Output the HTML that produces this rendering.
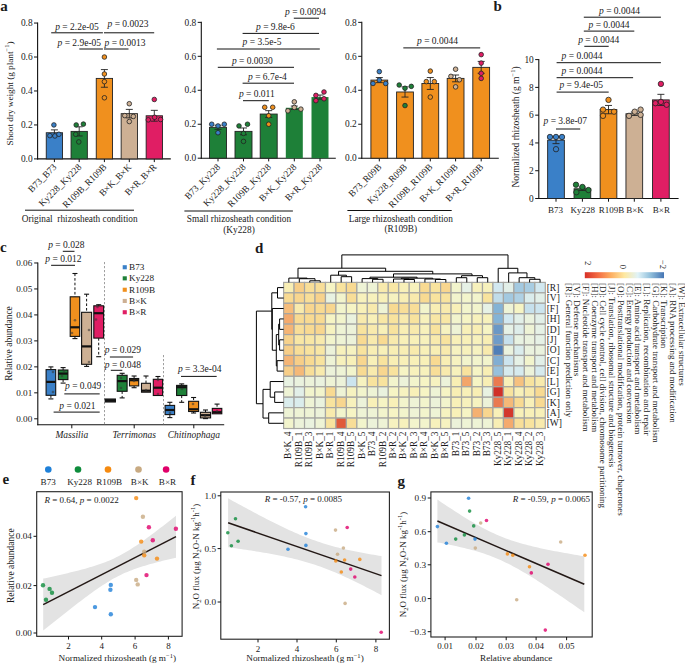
<!DOCTYPE html>
<html><head><meta charset="utf-8"><style>
html,body{margin:0;padding:0;background:#fff;width:685px;height:665px;overflow:hidden}
svg{display:block}
text{font-family:"Liberation Serif",serif;fill:#1a1a1a}
</style></head><body>
<svg width="685" height="665" viewBox="0 0 685 665" shape-rendering="auto">
<rect width="685" height="665" fill="#fff"/>
<text x="0.30" y="10.80" font-size="15" font-weight="bold">a</text>
<text x="493.50" y="10.80" font-size="15" font-weight="bold">b</text>
<text x="0.00" y="251.90" font-size="15" font-weight="bold">c</text>
<text x="255.00" y="252.50" font-size="15" font-weight="bold">d</text>
<text x="2.50" y="483.60" font-size="15" font-weight="bold">e</text>
<text x="190.50" y="484.90" font-size="15" font-weight="bold">f</text>
<text x="397.50" y="486.00" font-size="15" font-weight="bold">g</text>
<line x1="37.60" y1="22.56" x2="37.60" y2="159.40" stroke="#111" stroke-width="1.1"/>
<line x1="34.00" y1="158.90" x2="37.60" y2="158.90" stroke="#111" stroke-width="1"/>
<text x="32.60" y="162.10" font-size="9.4" text-anchor="end">0.0</text>
<line x1="34.00" y1="124.94" x2="37.60" y2="124.94" stroke="#111" stroke-width="1"/>
<text x="32.60" y="128.14" font-size="9.4" text-anchor="end">0.2</text>
<line x1="34.00" y1="90.98" x2="37.60" y2="90.98" stroke="#111" stroke-width="1"/>
<text x="32.60" y="94.18" font-size="9.4" text-anchor="end">0.4</text>
<line x1="34.00" y1="57.02" x2="37.60" y2="57.02" stroke="#111" stroke-width="1"/>
<text x="32.60" y="60.22" font-size="9.4" text-anchor="end">0.6</text>
<line x1="34.00" y1="23.06" x2="37.60" y2="23.06" stroke="#111" stroke-width="1"/>
<text x="32.60" y="26.26" font-size="9.4" text-anchor="end">0.8</text>
<line x1="37.10" y1="158.90" x2="170.80" y2="158.90" stroke="#111" stroke-width="1.1"/>
<line x1="54.40" y1="158.90" x2="54.40" y2="162.10" stroke="#111" stroke-width="1"/>
<rect x="46.25" y="132.75" width="16.30" height="26.15" fill="#3a80c8" stroke="#222" stroke-width="0.9"/>
<line x1="54.40" y1="129.86" x2="54.40" y2="135.64" stroke="#222" stroke-width="0.9"/>
<line x1="50.90" y1="129.86" x2="57.90" y2="129.86" stroke="#222" stroke-width="0.9"/>
<line x1="50.90" y1="135.64" x2="57.90" y2="135.64" stroke="#222" stroke-width="0.9"/>
<circle cx="53.90" cy="124.94" r="2.3" fill="#3a80c8" stroke="#222" stroke-width="0.8"/>
<circle cx="49.90" cy="135.64" r="2.3" fill="#3a80c8" stroke="#222" stroke-width="0.8"/>
<circle cx="54.90" cy="135.98" r="2.3" fill="#3a80c8" stroke="#222" stroke-width="0.8"/>
<circle cx="58.90" cy="134.28" r="2.3" fill="#3a80c8" stroke="#222" stroke-width="0.8"/>
<text x="57.20" y="167.60" font-size="9.4" text-anchor="end" transform="rotate(-45 57.20 167.60)">B73_B73</text>
<line x1="79.20" y1="158.90" x2="79.20" y2="162.10" stroke="#111" stroke-width="1"/>
<rect x="71.05" y="131.39" width="16.30" height="27.51" fill="#1e8038" stroke="#222" stroke-width="0.9"/>
<line x1="79.20" y1="126.81" x2="79.20" y2="135.98" stroke="#222" stroke-width="0.9"/>
<line x1="75.70" y1="126.81" x2="82.70" y2="126.81" stroke="#222" stroke-width="0.9"/>
<line x1="75.70" y1="135.98" x2="82.70" y2="135.98" stroke="#222" stroke-width="0.9"/>
<circle cx="76.20" cy="124.94" r="2.3" fill="#1e8038" stroke="#222" stroke-width="0.8"/>
<circle cx="83.40" cy="124.09" r="2.3" fill="#1e8038" stroke="#222" stroke-width="0.8"/>
<circle cx="78.80" cy="141.92" r="2.3" fill="#1e8038" stroke="#222" stroke-width="0.8"/>
<circle cx="75.70" cy="134.28" r="2.3" fill="#1e8038" stroke="#222" stroke-width="0.8"/>
<text x="82.00" y="167.60" font-size="9.4" text-anchor="end" transform="rotate(-45 82.00 167.60)">Ky228_Ky228</text>
<line x1="104.40" y1="158.90" x2="104.40" y2="162.10" stroke="#111" stroke-width="1"/>
<rect x="96.25" y="78.41" width="16.30" height="80.49" fill="#f0901e" stroke="#222" stroke-width="0.9"/>
<line x1="104.40" y1="69.59" x2="104.40" y2="87.24" stroke="#222" stroke-width="0.9"/>
<line x1="100.90" y1="69.59" x2="107.90" y2="69.59" stroke="#222" stroke-width="0.9"/>
<line x1="100.90" y1="87.24" x2="107.90" y2="87.24" stroke="#222" stroke-width="0.9"/>
<circle cx="104.40" cy="57.02" r="2.3" fill="#f0901e" stroke="#222" stroke-width="0.8"/>
<circle cx="104.40" cy="74.00" r="2.3" fill="#f0901e" stroke="#222" stroke-width="0.8"/>
<circle cx="104.40" cy="81.64" r="2.3" fill="#f0901e" stroke="#222" stroke-width="0.8"/>
<circle cx="104.40" cy="97.77" r="2.3" fill="#f0901e" stroke="#222" stroke-width="0.8"/>
<text x="107.20" y="167.60" font-size="9.4" text-anchor="end" transform="rotate(-45 107.20 167.60)">R109B_R109B</text>
<line x1="129.30" y1="158.90" x2="129.30" y2="162.10" stroke="#111" stroke-width="1"/>
<rect x="121.15" y="113.65" width="16.30" height="45.25" fill="#cdb094" stroke="#222" stroke-width="0.9"/>
<line x1="129.30" y1="109.40" x2="129.30" y2="117.89" stroke="#222" stroke-width="0.9"/>
<line x1="125.80" y1="109.40" x2="132.80" y2="109.40" stroke="#222" stroke-width="0.9"/>
<line x1="125.80" y1="117.89" x2="132.80" y2="117.89" stroke="#222" stroke-width="0.9"/>
<circle cx="129.30" cy="103.72" r="2.3" fill="#cdb094" stroke="#222" stroke-width="0.8"/>
<circle cx="124.80" cy="115.60" r="2.3" fill="#cdb094" stroke="#222" stroke-width="0.8"/>
<circle cx="133.30" cy="116.45" r="2.3" fill="#cdb094" stroke="#222" stroke-width="0.8"/>
<circle cx="129.30" cy="121.54" r="2.3" fill="#cdb094" stroke="#222" stroke-width="0.8"/>
<text x="132.10" y="167.60" font-size="9.4" text-anchor="end" transform="rotate(-45 132.10 167.60)">B×K_B×K</text>
<line x1="154.30" y1="158.90" x2="154.30" y2="162.10" stroke="#111" stroke-width="1"/>
<rect x="146.15" y="115.77" width="16.30" height="43.13" fill="#e01e64" stroke="#222" stroke-width="0.9"/>
<line x1="154.30" y1="110.34" x2="154.30" y2="121.20" stroke="#222" stroke-width="0.9"/>
<line x1="150.80" y1="110.34" x2="157.80" y2="110.34" stroke="#222" stroke-width="0.9"/>
<line x1="150.80" y1="121.20" x2="157.80" y2="121.20" stroke="#222" stroke-width="0.9"/>
<circle cx="154.30" cy="99.47" r="2.3" fill="#e01e64" stroke="#222" stroke-width="0.8"/>
<circle cx="148.30" cy="119.85" r="2.3" fill="#e01e64" stroke="#222" stroke-width="0.8"/>
<circle cx="154.60" cy="117.30" r="2.3" fill="#e01e64" stroke="#222" stroke-width="0.8"/>
<circle cx="160.60" cy="119.51" r="2.3" fill="#e01e64" stroke="#222" stroke-width="0.8"/>
<text x="157.10" y="167.60" font-size="9.4" text-anchor="end" transform="rotate(-45 157.10 167.60)">B×R_B×R</text>
<text x="12.60" y="93.50" font-size="9.2" text-anchor="middle" transform="rotate(-90 12.60 93.50)">Shoot dry weight (g plant<tspan dy="-3.5" font-size="6.5">−1</tspan><tspan dy="3.5">)</tspan></text>
<line x1="25.00" y1="210.20" x2="134.00" y2="210.20" stroke="#111" stroke-width="1"/>
<text x="79.70" y="221.70" font-size="9.3" text-anchor="middle">Original  rhizosheath condition</text>
<text x="55.20" y="29.70" font-size="9.5"><tspan font-style="italic">p</tspan> = 2.2e-05</text>
<line x1="51.20" y1="32.80" x2="102.90" y2="32.80" stroke="#111" stroke-width="1"/>
<text x="107.50" y="26.50" font-size="9.5"><tspan font-style="italic">p</tspan> = 0.0023</text>
<line x1="104.00" y1="32.80" x2="154.20" y2="32.80" stroke="#111" stroke-width="1"/>
<text x="57.50" y="46.00" font-size="9.5"><tspan font-style="italic">p</tspan> = 2.9e-05</text>
<line x1="79.30" y1="49.00" x2="102.90" y2="49.00" stroke="#111" stroke-width="1"/>
<text x="104.50" y="46.00" font-size="9.5"><tspan font-style="italic">p</tspan> = 0.0013</text>
<line x1="104.00" y1="49.00" x2="128.50" y2="49.00" stroke="#111" stroke-width="1"/>
<line x1="201.30" y1="21.86" x2="201.30" y2="158.70" stroke="#111" stroke-width="1.1"/>
<line x1="197.70" y1="158.20" x2="201.30" y2="158.20" stroke="#111" stroke-width="1"/>
<text x="196.30" y="161.40" font-size="9.4" text-anchor="end">0.0</text>
<line x1="197.70" y1="124.24" x2="201.30" y2="124.24" stroke="#111" stroke-width="1"/>
<text x="196.30" y="127.44" font-size="9.4" text-anchor="end">0.2</text>
<line x1="197.70" y1="90.28" x2="201.30" y2="90.28" stroke="#111" stroke-width="1"/>
<text x="196.30" y="93.48" font-size="9.4" text-anchor="end">0.4</text>
<line x1="197.70" y1="56.32" x2="201.30" y2="56.32" stroke="#111" stroke-width="1"/>
<text x="196.30" y="59.52" font-size="9.4" text-anchor="end">0.6</text>
<line x1="197.70" y1="22.36" x2="201.30" y2="22.36" stroke="#111" stroke-width="1"/>
<text x="196.30" y="25.56" font-size="9.4" text-anchor="end">0.8</text>
<line x1="200.80" y1="158.20" x2="335.80" y2="158.20" stroke="#111" stroke-width="1.1"/>
<line x1="218.00" y1="158.20" x2="218.00" y2="161.40" stroke="#111" stroke-width="1"/>
<rect x="209.50" y="127.30" width="17.00" height="30.90" fill="#1e8038" stroke="#222" stroke-width="0.9"/>
<line x1="218.00" y1="125.26" x2="218.00" y2="129.33" stroke="#222" stroke-width="0.9"/>
<line x1="214.50" y1="125.26" x2="221.50" y2="125.26" stroke="#222" stroke-width="0.9"/>
<line x1="214.50" y1="129.33" x2="221.50" y2="129.33" stroke="#222" stroke-width="0.9"/>
<circle cx="211.70" cy="124.24" r="2.3" fill="#3a80c8" stroke="#222" stroke-width="0.8"/>
<circle cx="218.00" cy="125.94" r="2.3" fill="#3a80c8" stroke="#222" stroke-width="0.8"/>
<circle cx="224.30" cy="124.24" r="2.3" fill="#3a80c8" stroke="#222" stroke-width="0.8"/>
<circle cx="218.00" cy="132.73" r="2.3" fill="#3a80c8" stroke="#222" stroke-width="0.8"/>
<text x="220.80" y="167.60" font-size="9.4" text-anchor="end" transform="rotate(-45 220.80 167.60)">B73_Ky228</text>
<line x1="243.50" y1="158.20" x2="243.50" y2="161.40" stroke="#111" stroke-width="1"/>
<rect x="235.00" y="131.37" width="17.00" height="26.83" fill="#1e8038" stroke="#222" stroke-width="0.9"/>
<line x1="243.50" y1="127.98" x2="243.50" y2="134.77" stroke="#222" stroke-width="0.9"/>
<line x1="240.00" y1="127.98" x2="247.00" y2="127.98" stroke="#222" stroke-width="0.9"/>
<line x1="240.00" y1="134.77" x2="247.00" y2="134.77" stroke="#222" stroke-width="0.9"/>
<circle cx="239.00" cy="125.94" r="2.3" fill="#1e8038" stroke="#222" stroke-width="0.8"/>
<circle cx="247.50" cy="124.24" r="2.3" fill="#1e8038" stroke="#222" stroke-width="0.8"/>
<circle cx="243.50" cy="133.41" r="2.3" fill="#1e8038" stroke="#222" stroke-width="0.8"/>
<circle cx="243.50" cy="141.39" r="2.3" fill="#1e8038" stroke="#222" stroke-width="0.8"/>
<text x="246.30" y="167.60" font-size="9.4" text-anchor="end" transform="rotate(-45 246.30 167.60)">Ky228_Ky228</text>
<line x1="268.70" y1="158.20" x2="268.70" y2="161.40" stroke="#111" stroke-width="1"/>
<rect x="260.20" y="114.05" width="17.00" height="44.15" fill="#1e8038" stroke="#222" stroke-width="0.9"/>
<line x1="268.70" y1="110.66" x2="268.70" y2="117.45" stroke="#222" stroke-width="0.9"/>
<line x1="265.20" y1="110.66" x2="272.20" y2="110.66" stroke="#222" stroke-width="0.9"/>
<line x1="265.20" y1="117.45" x2="272.20" y2="117.45" stroke="#222" stroke-width="0.9"/>
<circle cx="264.70" cy="107.26" r="2.3" fill="#f0901e" stroke="#222" stroke-width="0.8"/>
<circle cx="272.70" cy="107.26" r="2.3" fill="#f0901e" stroke="#222" stroke-width="0.8"/>
<circle cx="268.70" cy="115.75" r="2.3" fill="#f0901e" stroke="#222" stroke-width="0.8"/>
<circle cx="268.70" cy="124.24" r="2.3" fill="#f0901e" stroke="#222" stroke-width="0.8"/>
<text x="271.50" y="167.60" font-size="9.4" text-anchor="end" transform="rotate(-45 271.50 167.60)">R109B_Ky228</text>
<line x1="294.30" y1="158.20" x2="294.30" y2="161.40" stroke="#111" stroke-width="1"/>
<rect x="285.80" y="107.77" width="17.00" height="50.43" fill="#1e8038"/>
<line x1="294.30" y1="106.07" x2="294.30" y2="109.47" stroke="#222" stroke-width="0.9"/>
<line x1="290.80" y1="106.07" x2="297.80" y2="106.07" stroke="#222" stroke-width="0.9"/>
<line x1="290.80" y1="109.47" x2="297.80" y2="109.47" stroke="#222" stroke-width="0.9"/>
<circle cx="294.30" cy="101.83" r="2.3" fill="#cdb094" stroke="#222" stroke-width="0.8"/>
<circle cx="294.30" cy="107.43" r="2.3" fill="#cdb094" stroke="#222" stroke-width="0.8"/>
<circle cx="287.90" cy="110.83" r="2.3" fill="#cdb094" stroke="#222" stroke-width="0.8"/>
<circle cx="300.90" cy="109.13" r="2.3" fill="#cdb094" stroke="#222" stroke-width="0.8"/>
<text x="297.10" y="167.60" font-size="9.4" text-anchor="end" transform="rotate(-45 297.10 167.60)">B×K_Ky228</text>
<line x1="320.00" y1="158.20" x2="320.00" y2="161.40" stroke="#111" stroke-width="1"/>
<rect x="311.50" y="97.07" width="17.00" height="61.13" fill="#1e8038"/>
<line x1="320.00" y1="95.03" x2="320.00" y2="99.11" stroke="#222" stroke-width="0.9"/>
<line x1="316.50" y1="95.03" x2="323.50" y2="95.03" stroke="#222" stroke-width="0.9"/>
<line x1="316.50" y1="99.11" x2="323.50" y2="99.11" stroke="#222" stroke-width="0.9"/>
<circle cx="315.90" cy="95.37" r="2.3" fill="#e01e64" stroke="#222" stroke-width="0.8"/>
<circle cx="324.00" cy="91.98" r="2.3" fill="#e01e64" stroke="#222" stroke-width="0.8"/>
<circle cx="315.90" cy="100.64" r="2.3" fill="#e01e64" stroke="#222" stroke-width="0.8"/>
<circle cx="324.00" cy="98.77" r="2.3" fill="#e01e64" stroke="#222" stroke-width="0.8"/>
<text x="322.80" y="167.60" font-size="9.4" text-anchor="end" transform="rotate(-45 322.80 167.60)">B×R_Ky228</text>
<line x1="184.40" y1="211.00" x2="292.90" y2="211.00" stroke="#111" stroke-width="1"/>
<text x="239.00" y="222.10" font-size="9.3" text-anchor="middle">Small rhizosheath condition</text>
<text x="239.00" y="232.80" font-size="9.3" text-anchor="middle">(Ky228)</text>
<text x="285.00" y="14.50" font-size="9.5"><tspan font-style="italic">p</tspan> = 0.0094</text>
<line x1="293.80" y1="18.20" x2="319.00" y2="18.20" stroke="#111" stroke-width="1"/>
<text x="256.00" y="30.00" font-size="9.5"><tspan font-style="italic">p</tspan> = 9.8e-6</text>
<line x1="242.60" y1="33.40" x2="319.00" y2="33.40" stroke="#111" stroke-width="1"/>
<text x="242.60" y="45.00" font-size="9.5"><tspan font-style="italic">p</tspan> = 3.5e-5</text>
<line x1="216.90" y1="49.00" x2="319.80" y2="49.00" stroke="#111" stroke-width="1"/>
<text x="231.90" y="63.50" font-size="9.5"><tspan font-style="italic">p</tspan> = 0.0030</text>
<line x1="217.80" y1="67.30" x2="294.00" y2="67.30" stroke="#111" stroke-width="1"/>
<text x="248.00" y="80.00" font-size="9.5"><tspan font-style="italic">p</tspan> = 6.7e-4</text>
<line x1="242.60" y1="83.20" x2="294.00" y2="83.20" stroke="#111" stroke-width="1"/>
<text x="238.90" y="97.00" font-size="9.5"><tspan font-style="italic">p</tspan> = 0.011</text>
<line x1="243.00" y1="100.70" x2="268.80" y2="100.70" stroke="#111" stroke-width="1"/>
<line x1="361.80" y1="21.86" x2="361.80" y2="158.70" stroke="#111" stroke-width="1.1"/>
<line x1="358.20" y1="158.20" x2="361.80" y2="158.20" stroke="#111" stroke-width="1"/>
<text x="356.80" y="161.40" font-size="9.4" text-anchor="end">0.0</text>
<line x1="358.20" y1="124.24" x2="361.80" y2="124.24" stroke="#111" stroke-width="1"/>
<text x="356.80" y="127.44" font-size="9.4" text-anchor="end">0.2</text>
<line x1="358.20" y1="90.28" x2="361.80" y2="90.28" stroke="#111" stroke-width="1"/>
<text x="356.80" y="93.48" font-size="9.4" text-anchor="end">0.4</text>
<line x1="358.20" y1="56.32" x2="361.80" y2="56.32" stroke="#111" stroke-width="1"/>
<text x="356.80" y="59.52" font-size="9.4" text-anchor="end">0.6</text>
<line x1="358.20" y1="22.36" x2="361.80" y2="22.36" stroke="#111" stroke-width="1"/>
<text x="356.80" y="25.56" font-size="9.4" text-anchor="end">0.8</text>
<line x1="361.30" y1="158.20" x2="498.80" y2="158.20" stroke="#111" stroke-width="1.1"/>
<line x1="379.30" y1="158.20" x2="379.30" y2="161.40" stroke="#111" stroke-width="1"/>
<rect x="370.90" y="80.09" width="16.80" height="78.11" fill="#f0901e" stroke="#222" stroke-width="0.9"/>
<line x1="379.30" y1="77.54" x2="379.30" y2="82.64" stroke="#222" stroke-width="0.9"/>
<line x1="375.80" y1="77.54" x2="382.80" y2="77.54" stroke="#222" stroke-width="0.9"/>
<line x1="375.80" y1="82.64" x2="382.80" y2="82.64" stroke="#222" stroke-width="0.9"/>
<circle cx="379.30" cy="71.60" r="2.3" fill="#3a80c8" stroke="#222" stroke-width="0.8"/>
<circle cx="373.00" cy="83.49" r="2.3" fill="#3a80c8" stroke="#222" stroke-width="0.8"/>
<circle cx="379.30" cy="80.09" r="2.3" fill="#3a80c8" stroke="#222" stroke-width="0.8"/>
<circle cx="385.70" cy="83.49" r="2.3" fill="#3a80c8" stroke="#222" stroke-width="0.8"/>
<text x="382.10" y="167.60" font-size="9.4" text-anchor="end" transform="rotate(-45 382.10 167.60)">B73_R09B</text>
<line x1="405.00" y1="158.20" x2="405.00" y2="161.40" stroke="#111" stroke-width="1"/>
<rect x="396.60" y="91.98" width="16.80" height="66.22" fill="#f0901e" stroke="#222" stroke-width="0.9"/>
<line x1="405.00" y1="86.88" x2="405.00" y2="97.07" stroke="#222" stroke-width="0.9"/>
<line x1="401.50" y1="86.88" x2="408.50" y2="86.88" stroke="#222" stroke-width="0.9"/>
<line x1="401.50" y1="97.07" x2="408.50" y2="97.07" stroke="#222" stroke-width="0.9"/>
<circle cx="399.20" cy="85.02" r="2.3" fill="#1e8038" stroke="#222" stroke-width="0.8"/>
<circle cx="405.00" cy="88.24" r="2.3" fill="#1e8038" stroke="#222" stroke-width="0.8"/>
<circle cx="411.30" cy="86.37" r="2.3" fill="#1e8038" stroke="#222" stroke-width="0.8"/>
<circle cx="405.00" cy="105.56" r="2.3" fill="#1e8038" stroke="#222" stroke-width="0.8"/>
<text x="407.80" y="167.60" font-size="9.4" text-anchor="end" transform="rotate(-45 407.80 167.60)">Ky228_R09B</text>
<line x1="430.30" y1="158.20" x2="430.30" y2="161.40" stroke="#111" stroke-width="1"/>
<rect x="421.90" y="83.49" width="16.80" height="74.71" fill="#f0901e" stroke="#222" stroke-width="0.9"/>
<line x1="430.30" y1="77.54" x2="430.30" y2="89.43" stroke="#222" stroke-width="0.9"/>
<line x1="426.80" y1="77.54" x2="433.80" y2="77.54" stroke="#222" stroke-width="0.9"/>
<line x1="426.80" y1="89.43" x2="433.80" y2="89.43" stroke="#222" stroke-width="0.9"/>
<circle cx="430.30" cy="71.09" r="2.3" fill="#f0901e" stroke="#222" stroke-width="0.8"/>
<circle cx="426.30" cy="81.62" r="2.3" fill="#f0901e" stroke="#222" stroke-width="0.8"/>
<circle cx="434.30" cy="81.62" r="2.3" fill="#f0901e" stroke="#222" stroke-width="0.8"/>
<circle cx="430.30" cy="97.07" r="2.3" fill="#f0901e" stroke="#222" stroke-width="0.8"/>
<text x="433.10" y="167.60" font-size="9.4" text-anchor="end" transform="rotate(-45 433.10 167.60)">R109B_R109B</text>
<line x1="455.60" y1="158.20" x2="455.60" y2="161.40" stroke="#111" stroke-width="1"/>
<rect x="447.20" y="78.39" width="16.80" height="79.81" fill="#f0901e" stroke="#222" stroke-width="0.9"/>
<line x1="455.60" y1="75.00" x2="455.60" y2="81.79" stroke="#222" stroke-width="0.9"/>
<line x1="452.10" y1="75.00" x2="459.10" y2="75.00" stroke="#222" stroke-width="0.9"/>
<line x1="452.10" y1="81.79" x2="459.10" y2="81.79" stroke="#222" stroke-width="0.9"/>
<circle cx="455.60" cy="69.22" r="2.3" fill="#cdb094" stroke="#222" stroke-width="0.8"/>
<circle cx="450.90" cy="76.36" r="2.3" fill="#cdb094" stroke="#222" stroke-width="0.8"/>
<circle cx="459.40" cy="79.75" r="2.3" fill="#cdb094" stroke="#222" stroke-width="0.8"/>
<circle cx="455.60" cy="86.88" r="2.3" fill="#cdb094" stroke="#222" stroke-width="0.8"/>
<text x="458.40" y="167.60" font-size="9.4" text-anchor="end" transform="rotate(-45 458.40 167.60)">B×K_R109B</text>
<line x1="481.20" y1="158.20" x2="481.20" y2="161.40" stroke="#111" stroke-width="1"/>
<rect x="472.80" y="67.36" width="16.80" height="90.84" fill="#f0901e" stroke="#222" stroke-width="0.9"/>
<line x1="481.20" y1="61.41" x2="481.20" y2="73.30" stroke="#222" stroke-width="0.9"/>
<line x1="477.70" y1="61.41" x2="484.70" y2="61.41" stroke="#222" stroke-width="0.9"/>
<line x1="477.70" y1="73.30" x2="484.70" y2="73.30" stroke="#222" stroke-width="0.9"/>
<circle cx="481.20" cy="54.62" r="2.3" fill="#e01e64" stroke="#222" stroke-width="0.8"/>
<circle cx="481.20" cy="63.11" r="2.3" fill="#e01e64" stroke="#222" stroke-width="0.8"/>
<circle cx="481.20" cy="73.30" r="2.3" fill="#e01e64" stroke="#222" stroke-width="0.8"/>
<circle cx="481.20" cy="78.39" r="2.3" fill="#e01e64" stroke="#222" stroke-width="0.8"/>
<text x="484.00" y="167.60" font-size="9.4" text-anchor="end" transform="rotate(-45 484.00 167.60)">B×R_R109B</text>
<line x1="347.40" y1="210.50" x2="451.70" y2="210.50" stroke="#111" stroke-width="1"/>
<text x="400.80" y="221.60" font-size="9.3" text-anchor="middle">Large rhizosheath condition</text>
<text x="400.80" y="231.50" font-size="9.3" text-anchor="middle">(R109B)</text>
<text x="417.00" y="44.20" font-size="9.5"><tspan font-style="italic">p</tspan> = 0.0044</text>
<line x1="403.30" y1="47.90" x2="480.20" y2="47.90" stroke="#111" stroke-width="1"/>
<line x1="538.80" y1="59.10" x2="538.80" y2="199.00" stroke="#111" stroke-width="1.1"/>
<line x1="535.20" y1="198.50" x2="538.80" y2="198.50" stroke="#111" stroke-width="1"/>
<text x="533.80" y="201.70" font-size="9.4" text-anchor="end">0</text>
<line x1="535.20" y1="170.72" x2="538.80" y2="170.72" stroke="#111" stroke-width="1"/>
<text x="533.80" y="173.92" font-size="9.4" text-anchor="end">2</text>
<line x1="535.20" y1="142.94" x2="538.80" y2="142.94" stroke="#111" stroke-width="1"/>
<text x="533.80" y="146.14" font-size="9.4" text-anchor="end">4</text>
<line x1="535.20" y1="115.16" x2="538.80" y2="115.16" stroke="#111" stroke-width="1"/>
<text x="533.80" y="118.36" font-size="9.4" text-anchor="end">6</text>
<line x1="535.20" y1="87.38" x2="538.80" y2="87.38" stroke="#111" stroke-width="1"/>
<text x="533.80" y="90.58" font-size="9.4" text-anchor="end">8</text>
<line x1="535.20" y1="59.60" x2="538.80" y2="59.60" stroke="#111" stroke-width="1"/>
<text x="533.80" y="62.80" font-size="9.4" text-anchor="end">10</text>
<line x1="538.30" y1="198.50" x2="678.60" y2="198.50" stroke="#111" stroke-width="1.1"/>
<line x1="556.00" y1="198.50" x2="556.00" y2="201.70" stroke="#111" stroke-width="1"/>
<rect x="547.65" y="140.16" width="16.70" height="58.34" fill="#3a80c8" stroke="#222" stroke-width="0.9"/>
<line x1="556.00" y1="136.69" x2="556.00" y2="143.63" stroke="#222" stroke-width="0.9"/>
<line x1="552.50" y1="136.69" x2="559.50" y2="136.69" stroke="#222" stroke-width="0.9"/>
<line x1="552.50" y1="143.63" x2="559.50" y2="143.63" stroke="#222" stroke-width="0.9"/>
<circle cx="550.00" cy="136.97" r="2.7" fill="#3a80c8" stroke="#222" stroke-width="0.8"/>
<circle cx="556.00" cy="136.97" r="2.7" fill="#3a80c8" stroke="#222" stroke-width="0.8"/>
<circle cx="562.00" cy="136.97" r="2.7" fill="#3a80c8" stroke="#222" stroke-width="0.8"/>
<circle cx="556.00" cy="149.19" r="2.7" fill="#3a80c8" stroke="#222" stroke-width="0.8"/>
<text x="555.50" y="213.20" font-size="9.0" text-anchor="middle">B73</text>
<line x1="582.40" y1="198.50" x2="582.40" y2="201.70" stroke="#111" stroke-width="1"/>
<rect x="574.05" y="188.78" width="16.70" height="9.72" fill="#1e8038" stroke="#222" stroke-width="0.9"/>
<line x1="582.40" y1="187.11" x2="582.40" y2="190.44" stroke="#222" stroke-width="0.9"/>
<line x1="578.90" y1="187.11" x2="585.90" y2="187.11" stroke="#222" stroke-width="0.9"/>
<line x1="578.90" y1="190.44" x2="585.90" y2="190.44" stroke="#222" stroke-width="0.9"/>
<circle cx="576.00" cy="184.75" r="2.7" fill="#1e8038" stroke="#222" stroke-width="0.8"/>
<circle cx="582.40" cy="186.97" r="2.7" fill="#1e8038" stroke="#222" stroke-width="0.8"/>
<circle cx="588.40" cy="190.03" r="2.7" fill="#1e8038" stroke="#222" stroke-width="0.8"/>
<circle cx="576.40" cy="192.25" r="2.7" fill="#1e8038" stroke="#222" stroke-width="0.8"/>
<text x="582.80" y="213.20" font-size="9.0" text-anchor="middle">Ky228</text>
<line x1="608.50" y1="198.50" x2="608.50" y2="201.70" stroke="#111" stroke-width="1"/>
<rect x="600.15" y="109.60" width="16.70" height="88.90" fill="#f0901e" stroke="#222" stroke-width="0.9"/>
<line x1="608.50" y1="105.44" x2="608.50" y2="113.77" stroke="#222" stroke-width="0.9"/>
<line x1="605.00" y1="105.44" x2="612.00" y2="105.44" stroke="#222" stroke-width="0.9"/>
<line x1="605.00" y1="113.77" x2="612.00" y2="113.77" stroke="#222" stroke-width="0.9"/>
<circle cx="608.50" cy="99.88" r="2.7" fill="#f0901e" stroke="#222" stroke-width="0.8"/>
<circle cx="603.00" cy="109.60" r="2.7" fill="#f0901e" stroke="#222" stroke-width="0.8"/>
<circle cx="614.00" cy="111.69" r="2.7" fill="#f0901e" stroke="#222" stroke-width="0.8"/>
<circle cx="603.00" cy="115.85" r="2.7" fill="#f0901e" stroke="#222" stroke-width="0.8"/>
<text x="611.50" y="213.20" font-size="9.0" text-anchor="middle">R109B</text>
<line x1="634.30" y1="198.50" x2="634.30" y2="201.70" stroke="#111" stroke-width="1"/>
<rect x="625.95" y="113.77" width="16.70" height="84.73" fill="#cdb094" stroke="#222" stroke-width="0.9"/>
<line x1="634.30" y1="112.10" x2="634.30" y2="115.44" stroke="#222" stroke-width="0.9"/>
<line x1="630.80" y1="112.10" x2="637.80" y2="112.10" stroke="#222" stroke-width="0.9"/>
<line x1="630.80" y1="115.44" x2="637.80" y2="115.44" stroke="#222" stroke-width="0.9"/>
<circle cx="629.00" cy="115.85" r="2.7" fill="#cdb094" stroke="#222" stroke-width="0.8"/>
<circle cx="634.70" cy="111.69" r="2.7" fill="#cdb094" stroke="#222" stroke-width="0.8"/>
<circle cx="640.60" cy="109.60" r="2.7" fill="#cdb094" stroke="#222" stroke-width="0.8"/>
<circle cx="640.60" cy="114.88" r="2.7" fill="#cdb094" stroke="#222" stroke-width="0.8"/>
<text x="635.00" y="213.20" font-size="9.0" text-anchor="middle">B×K</text>
<line x1="660.90" y1="198.50" x2="660.90" y2="201.70" stroke="#111" stroke-width="1"/>
<rect x="652.55" y="99.88" width="16.70" height="98.62" fill="#e01e64" stroke="#222" stroke-width="0.9"/>
<line x1="660.90" y1="94.33" x2="660.90" y2="105.44" stroke="#222" stroke-width="0.9"/>
<line x1="657.40" y1="94.33" x2="664.40" y2="94.33" stroke="#222" stroke-width="0.9"/>
<line x1="657.40" y1="105.44" x2="664.40" y2="105.44" stroke="#222" stroke-width="0.9"/>
<circle cx="660.90" cy="83.91" r="2.7" fill="#e01e64" stroke="#222" stroke-width="0.8"/>
<circle cx="655.40" cy="103.21" r="2.7" fill="#e01e64" stroke="#222" stroke-width="0.8"/>
<circle cx="660.90" cy="101.96" r="2.7" fill="#e01e64" stroke="#222" stroke-width="0.8"/>
<circle cx="666.60" cy="104.74" r="2.7" fill="#e01e64" stroke="#222" stroke-width="0.8"/>
<text x="661.40" y="213.20" font-size="9.0" text-anchor="middle">B×R</text>
<text x="518.50" y="127.00" font-size="9.5" text-anchor="middle" transform="rotate(-90 518.50 127.00)">Normalized rhizosheath (g m<tspan dy="-3.5" font-size="6.5">−1</tspan><tspan dy="3.5">)</tspan></text>
<text x="599.00" y="14.40" font-size="9.5"><tspan font-style="italic">p</tspan> = 0.0044</text>
<line x1="583.80" y1="17.20" x2="660.90" y2="17.20" stroke="#111" stroke-width="1"/>
<text x="588.50" y="27.70" font-size="9.5"><tspan font-style="italic">p</tspan> = 0.0044</text>
<line x1="583.80" y1="31.10" x2="634.30" y2="31.10" stroke="#111" stroke-width="1"/>
<text x="578.20" y="43.00" font-size="9.5"><tspan font-style="italic">p</tspan> = 0.0044</text>
<line x1="584.30" y1="46.30" x2="608.70" y2="46.30" stroke="#111" stroke-width="1"/>
<text x="561.60" y="58.80" font-size="9.5"><tspan font-style="italic">p</tspan> = 0.0044</text>
<line x1="556.60" y1="62.70" x2="660.90" y2="62.70" stroke="#111" stroke-width="1"/>
<text x="561.60" y="73.80" font-size="9.5"><tspan font-style="italic">p</tspan> = 0.0044</text>
<line x1="556.60" y1="77.70" x2="633.10" y2="77.70" stroke="#111" stroke-width="1"/>
<text x="559.40" y="88.20" font-size="9.5"><tspan font-style="italic">p</tspan> = 9.4e-05</text>
<line x1="556.60" y1="92.10" x2="608.70" y2="92.10" stroke="#111" stroke-width="1"/>
<text x="543.50" y="124.30" font-size="9.5"><tspan font-style="italic">p</tspan> = 3.8e-07</text>
<line x1="556.00" y1="129.00" x2="580.20" y2="129.00" stroke="#111" stroke-width="1"/>
<line x1="37.80" y1="262.50" x2="37.80" y2="425.30" stroke="#111" stroke-width="1.1"/>
<line x1="37.30" y1="424.80" x2="224.20" y2="424.80" stroke="#111" stroke-width="1.1"/>
<line x1="34.20" y1="418.80" x2="37.80" y2="418.80" stroke="#111" stroke-width="1"/>
<text x="32.30" y="421.90" font-size="9.2" text-anchor="end">0.00</text>
<line x1="34.20" y1="392.83" x2="37.80" y2="392.83" stroke="#111" stroke-width="1"/>
<text x="32.30" y="395.93" font-size="9.2" text-anchor="end">0.01</text>
<line x1="34.20" y1="366.86" x2="37.80" y2="366.86" stroke="#111" stroke-width="1"/>
<text x="32.30" y="369.96" font-size="9.2" text-anchor="end">0.02</text>
<line x1="34.20" y1="340.89" x2="37.80" y2="340.89" stroke="#111" stroke-width="1"/>
<text x="32.30" y="343.99" font-size="9.2" text-anchor="end">0.03</text>
<line x1="34.20" y1="314.92" x2="37.80" y2="314.92" stroke="#111" stroke-width="1"/>
<text x="32.30" y="318.02" font-size="9.2" text-anchor="end">0.04</text>
<line x1="34.20" y1="288.95" x2="37.80" y2="288.95" stroke="#111" stroke-width="1"/>
<text x="32.30" y="292.05" font-size="9.2" text-anchor="end">0.05</text>
<line x1="34.20" y1="262.98" x2="37.80" y2="262.98" stroke="#111" stroke-width="1"/>
<text x="32.30" y="266.08" font-size="9.2" text-anchor="end">0.06</text>
<line x1="71.80" y1="424.80" x2="71.80" y2="428.30" stroke="#111" stroke-width="1"/>
<text x="71.80" y="437.60" font-size="9.5" text-anchor="middle" font-style="italic">Massilia</text>
<line x1="134.20" y1="424.80" x2="134.20" y2="428.30" stroke="#111" stroke-width="1"/>
<text x="134.20" y="437.60" font-size="9.5" text-anchor="middle" font-style="italic">Terrimonas</text>
<line x1="193.80" y1="424.80" x2="193.80" y2="428.30" stroke="#111" stroke-width="1"/>
<text x="193.80" y="437.60" font-size="9.5" text-anchor="middle" font-style="italic">Chitinophaga</text>
<text x="11.60" y="343.50" font-size="9.5" text-anchor="middle" transform="rotate(-90 11.60 343.50)">Relative abundance</text>
<line x1="104.50" y1="262.00" x2="104.50" y2="424.30" stroke="#888" stroke-width="0.8" stroke-dasharray="2.2,1.8"/>
<line x1="163.50" y1="355.00" x2="163.50" y2="424.30" stroke="#888" stroke-width="0.8" stroke-dasharray="2.2,1.8"/>
<line x1="50.90" y1="366.90" x2="50.90" y2="369.60" stroke="#111" stroke-width="1" stroke-dasharray="2.6,2"/>
<line x1="48.40" y1="366.90" x2="53.40" y2="366.90" stroke="#111" stroke-width="1.1"/>
<line x1="50.90" y1="395.30" x2="50.90" y2="398.90" stroke="#111" stroke-width="1" stroke-dasharray="2.6,2"/>
<line x1="48.40" y1="398.90" x2="53.40" y2="398.90" stroke="#111" stroke-width="1.1"/>
<rect x="46.10" y="369.60" width="9.60" height="25.70" fill="#3a80c8" stroke="#111" stroke-width="1.1"/>
<line x1="46.10" y1="381.90" x2="55.70" y2="381.90" stroke="#111" stroke-width="2.2"/>
<line x1="63.10" y1="367.60" x2="63.10" y2="370.00" stroke="#111" stroke-width="1" stroke-dasharray="2.6,2"/>
<line x1="60.60" y1="367.60" x2="65.60" y2="367.60" stroke="#111" stroke-width="1.1"/>
<line x1="63.10" y1="379.60" x2="63.10" y2="383.10" stroke="#111" stroke-width="1" stroke-dasharray="2.6,2"/>
<line x1="60.60" y1="383.10" x2="65.60" y2="383.10" stroke="#111" stroke-width="1.1"/>
<rect x="58.30" y="370.00" width="9.60" height="9.60" fill="#1e8038" stroke="#111" stroke-width="1.1"/>
<line x1="58.30" y1="373.60" x2="67.90" y2="373.60" stroke="#111" stroke-width="2.2"/>
<line x1="74.95" y1="273.50" x2="74.95" y2="296.80" stroke="#111" stroke-width="1" stroke-dasharray="2.6,2"/>
<line x1="72.45" y1="273.50" x2="77.45" y2="273.50" stroke="#111" stroke-width="1.1"/>
<line x1="74.95" y1="336.40" x2="74.95" y2="338.60" stroke="#111" stroke-width="1" stroke-dasharray="2.6,2"/>
<line x1="72.45" y1="338.60" x2="77.45" y2="338.60" stroke="#111" stroke-width="1.1"/>
<rect x="70.20" y="296.80" width="9.50" height="39.60" fill="#f0901e" stroke="#111" stroke-width="1.1"/>
<line x1="70.20" y1="327.30" x2="79.70" y2="327.30" stroke="#111" stroke-width="2.2"/>
<line x1="86.60" y1="294.20" x2="86.60" y2="312.30" stroke="#111" stroke-width="1" stroke-dasharray="2.6,2"/>
<line x1="84.10" y1="294.20" x2="89.10" y2="294.20" stroke="#111" stroke-width="1.1"/>
<line x1="86.60" y1="364.30" x2="86.60" y2="366.40" stroke="#111" stroke-width="1" stroke-dasharray="2.6,2"/>
<line x1="84.10" y1="366.40" x2="89.10" y2="366.40" stroke="#111" stroke-width="1.1"/>
<rect x="81.60" y="312.30" width="10.00" height="52.00" fill="#cdb094" stroke="#111" stroke-width="1.1"/>
<line x1="81.60" y1="346.40" x2="91.60" y2="346.40" stroke="#111" stroke-width="2.2"/>
<line x1="98.70" y1="304.70" x2="98.70" y2="305.80" stroke="#111" stroke-width="1" stroke-dasharray="2.6,2"/>
<line x1="96.20" y1="304.70" x2="101.20" y2="304.70" stroke="#111" stroke-width="1.1"/>
<line x1="98.70" y1="338.10" x2="98.70" y2="356.70" stroke="#111" stroke-width="1" stroke-dasharray="2.6,2"/>
<line x1="96.20" y1="356.70" x2="101.20" y2="356.70" stroke="#111" stroke-width="1.1"/>
<rect x="93.80" y="305.80" width="9.80" height="32.30" fill="#e01e64" stroke="#111" stroke-width="1.1"/>
<line x1="93.80" y1="313.20" x2="103.60" y2="313.20" stroke="#111" stroke-width="2.2"/>
<rect x="105.20" y="399.00" width="10.20" height="3.00" fill="#3a3a3a" stroke="#111" stroke-width="1.1"/>
<line x1="105.20" y1="400.50" x2="115.40" y2="400.50" stroke="#111" stroke-width="2.2"/>
<line x1="122.15" y1="373.30" x2="122.15" y2="375.30" stroke="#111" stroke-width="1" stroke-dasharray="2.6,2"/>
<line x1="119.65" y1="373.30" x2="124.65" y2="373.30" stroke="#111" stroke-width="1.1"/>
<line x1="122.15" y1="391.30" x2="122.15" y2="397.90" stroke="#111" stroke-width="1" stroke-dasharray="2.6,2"/>
<line x1="119.65" y1="397.90" x2="124.65" y2="397.90" stroke="#111" stroke-width="1.1"/>
<rect x="117.20" y="375.30" width="9.90" height="16.00" fill="#1e8038" stroke="#111" stroke-width="1.1"/>
<line x1="117.20" y1="381.10" x2="127.10" y2="381.10" stroke="#111" stroke-width="2.2"/>
<line x1="134.10" y1="376.00" x2="134.10" y2="378.50" stroke="#111" stroke-width="1" stroke-dasharray="2.6,2"/>
<line x1="131.60" y1="376.00" x2="136.60" y2="376.00" stroke="#111" stroke-width="1.1"/>
<line x1="134.10" y1="385.90" x2="134.10" y2="387.70" stroke="#111" stroke-width="1" stroke-dasharray="2.6,2"/>
<line x1="131.60" y1="387.70" x2="136.60" y2="387.70" stroke="#111" stroke-width="1.1"/>
<rect x="129.50" y="378.50" width="9.20" height="7.40" fill="#f0901e" stroke="#111" stroke-width="1.1"/>
<line x1="129.50" y1="380.20" x2="138.70" y2="380.20" stroke="#111" stroke-width="2.2"/>
<line x1="146.00" y1="376.00" x2="146.00" y2="383.30" stroke="#111" stroke-width="1" stroke-dasharray="2.6,2"/>
<line x1="143.50" y1="376.00" x2="148.50" y2="376.00" stroke="#111" stroke-width="1.1"/>
<rect x="141.50" y="383.30" width="9.00" height="8.90" fill="#cdb094" stroke="#111" stroke-width="1.1"/>
<line x1="141.50" y1="390.70" x2="150.50" y2="390.70" stroke="#111" stroke-width="2.2"/>
<line x1="157.95" y1="376.50" x2="157.95" y2="379.30" stroke="#111" stroke-width="1" stroke-dasharray="2.6,2"/>
<line x1="155.45" y1="376.50" x2="160.45" y2="376.50" stroke="#111" stroke-width="1.1"/>
<rect x="153.30" y="379.30" width="9.30" height="16.20" fill="#e01e64" stroke="#111" stroke-width="1.1"/>
<line x1="153.30" y1="387.70" x2="162.60" y2="387.70" stroke="#111" stroke-width="2.2"/>
<line x1="169.85" y1="402.30" x2="169.85" y2="405.40" stroke="#111" stroke-width="1" stroke-dasharray="2.6,2"/>
<line x1="167.35" y1="402.30" x2="172.35" y2="402.30" stroke="#111" stroke-width="1.1"/>
<line x1="169.85" y1="414.60" x2="169.85" y2="417.60" stroke="#111" stroke-width="1" stroke-dasharray="2.6,2"/>
<line x1="167.35" y1="417.60" x2="172.35" y2="417.60" stroke="#111" stroke-width="1.1"/>
<rect x="165.10" y="405.40" width="9.50" height="9.20" fill="#3a80c8" stroke="#111" stroke-width="1.1"/>
<line x1="165.10" y1="410.00" x2="174.60" y2="410.00" stroke="#111" stroke-width="2.2"/>
<line x1="181.70" y1="383.90" x2="181.70" y2="385.40" stroke="#111" stroke-width="1" stroke-dasharray="2.6,2"/>
<line x1="179.20" y1="383.90" x2="184.20" y2="383.90" stroke="#111" stroke-width="1.1"/>
<line x1="181.70" y1="395.50" x2="181.70" y2="402.30" stroke="#111" stroke-width="1" stroke-dasharray="2.6,2"/>
<line x1="179.20" y1="402.30" x2="184.20" y2="402.30" stroke="#111" stroke-width="1.1"/>
<rect x="176.60" y="385.40" width="10.20" height="10.10" fill="#1e8038" stroke="#111" stroke-width="1.1"/>
<line x1="176.60" y1="387.20" x2="186.80" y2="387.20" stroke="#111" stroke-width="2.2"/>
<line x1="193.60" y1="397.50" x2="193.60" y2="401.30" stroke="#111" stroke-width="1" stroke-dasharray="2.6,2"/>
<line x1="191.10" y1="397.50" x2="196.10" y2="397.50" stroke="#111" stroke-width="1.1"/>
<line x1="193.60" y1="411.50" x2="193.60" y2="413.00" stroke="#111" stroke-width="1" stroke-dasharray="2.6,2"/>
<line x1="191.10" y1="413.00" x2="196.10" y2="413.00" stroke="#111" stroke-width="1.1"/>
<rect x="188.60" y="401.30" width="10.00" height="10.20" fill="#f0901e" stroke="#111" stroke-width="1.1"/>
<line x1="188.60" y1="409.30" x2="198.60" y2="409.30" stroke="#111" stroke-width="2.2"/>
<line x1="205.50" y1="410.00" x2="205.50" y2="412.30" stroke="#111" stroke-width="1" stroke-dasharray="2.6,2"/>
<line x1="203.00" y1="410.00" x2="208.00" y2="410.00" stroke="#111" stroke-width="1.1"/>
<line x1="205.50" y1="417.90" x2="205.50" y2="418.60" stroke="#111" stroke-width="1" stroke-dasharray="2.6,2"/>
<line x1="203.00" y1="418.60" x2="208.00" y2="418.60" stroke="#111" stroke-width="1.1"/>
<rect x="200.40" y="412.30" width="10.20" height="5.60" fill="#cdb094" stroke="#111" stroke-width="1.1"/>
<line x1="200.40" y1="415.20" x2="210.60" y2="415.20" stroke="#111" stroke-width="2.2"/>
<line x1="217.05" y1="404.10" x2="217.05" y2="408.40" stroke="#111" stroke-width="1" stroke-dasharray="2.6,2"/>
<line x1="214.55" y1="404.10" x2="219.55" y2="404.10" stroke="#111" stroke-width="1.1"/>
<rect x="212.30" y="408.40" width="9.50" height="5.40" fill="#e01e64" stroke="#111" stroke-width="1.1"/>
<line x1="212.30" y1="412.20" x2="221.80" y2="412.20" stroke="#111" stroke-width="2.2"/>
<circle cx="75.00" cy="320.30" r="1.3" fill="#333" fill-opacity="0.55"/>
<circle cx="72.00" cy="333.00" r="1.3" fill="#333" fill-opacity="0.55"/>
<circle cx="97.50" cy="307.00" r="1.3" fill="#333" fill-opacity="0.55"/>
<circle cx="96.00" cy="319.50" r="1.3" fill="#333" fill-opacity="0.55"/>
<circle cx="89.00" cy="330.00" r="1.3" fill="#333" fill-opacity="0.55"/>
<circle cx="89.00" cy="362.00" r="1.3" fill="#333" fill-opacity="0.55"/>
<circle cx="53.00" cy="372.00" r="1.3" fill="#333" fill-opacity="0.55"/>
<circle cx="53.00" cy="392.00" r="1.3" fill="#333" fill-opacity="0.55"/>
<circle cx="64.00" cy="371.00" r="1.3" fill="#333" fill-opacity="0.55"/>
<circle cx="62.00" cy="376.00" r="1.3" fill="#333" fill-opacity="0.55"/>
<circle cx="121.00" cy="378.00" r="1.3" fill="#333" fill-opacity="0.55"/>
<circle cx="121.00" cy="388.00" r="1.3" fill="#333" fill-opacity="0.55"/>
<circle cx="134.00" cy="381.00" r="1.3" fill="#333" fill-opacity="0.55"/>
<circle cx="146.00" cy="390.00" r="1.3" fill="#333" fill-opacity="0.55"/>
<circle cx="158.00" cy="380.00" r="1.3" fill="#333" fill-opacity="0.55"/>
<circle cx="158.00" cy="394.00" r="1.3" fill="#333" fill-opacity="0.55"/>
<circle cx="170.00" cy="413.00" r="1.3" fill="#333" fill-opacity="0.55"/>
<circle cx="182.00" cy="389.00" r="1.3" fill="#333" fill-opacity="0.55"/>
<circle cx="193.00" cy="404.00" r="1.3" fill="#333" fill-opacity="0.55"/>
<circle cx="205.00" cy="416.00" r="1.3" fill="#333" fill-opacity="0.55"/>
<circle cx="217.00" cy="411.00" r="1.3" fill="#333" fill-opacity="0.55"/>
<text x="48.20" y="247.50" font-size="9.5"><tspan font-style="italic">p</tspan> = 0.028</text>
<line x1="62.80" y1="251.30" x2="74.50" y2="251.30" stroke="#111" stroke-width="1"/>
<text x="45.30" y="261.50" font-size="9.5"><tspan font-style="italic">p</tspan> = 0.012</text>
<line x1="51.10" y1="265.30" x2="75.00" y2="265.30" stroke="#111" stroke-width="1"/>
<text x="65.00" y="388.90" font-size="9.5"><tspan font-style="italic">p</tspan> = 0.049</text>
<line x1="64.30" y1="393.90" x2="99.70" y2="393.90" stroke="#111" stroke-width="1"/>
<text x="59.30" y="408.60" font-size="9.5"><tspan font-style="italic">p</tspan> = 0.021</text>
<line x1="53.60" y1="412.10" x2="99.70" y2="412.10" stroke="#111" stroke-width="1"/>
<text x="104.80" y="353.40" font-size="9.5"><tspan font-style="italic">p</tspan> = 0.029</text>
<line x1="109.90" y1="357.00" x2="133.10" y2="357.00" stroke="#111" stroke-width="1"/>
<text x="104.80" y="368.10" font-size="9.5"><tspan font-style="italic">p</tspan> = 0.048</text>
<line x1="110.80" y1="370.30" x2="122.30" y2="370.30" stroke="#111" stroke-width="1"/>
<text x="177.90" y="371.60" font-size="9.5"><tspan font-style="italic">p</tspan> = 3.3e-04</text>
<line x1="181.00" y1="376.40" x2="216.70" y2="376.40" stroke="#111" stroke-width="1"/>
<rect x="122.70" y="265.20" width="4.10" height="4.10" fill="#3a80c8"/>
<text x="129.00" y="270.30" font-size="9.2">B73</text>
<rect x="122.70" y="276.30" width="4.10" height="4.10" fill="#1e8038"/>
<text x="129.00" y="281.40" font-size="9.2">Ky228</text>
<rect x="122.70" y="287.70" width="4.10" height="4.10" fill="#f0901e"/>
<text x="129.00" y="292.80" font-size="9.2">R109B</text>
<rect x="122.70" y="298.90" width="4.10" height="4.10" fill="#cdb094"/>
<text x="129.00" y="304.00" font-size="9.2">B×K</text>
<rect x="122.70" y="310.20" width="4.10" height="4.10" fill="#e01e64"/>
<text x="129.00" y="315.30" font-size="9.2">B×R</text>
<rect x="283.60" y="282.40" width="10.47" height="10.44" fill="#f8eeb4" stroke="#a6a6a2" stroke-width="1.2"/>
<rect x="294.07" y="282.40" width="10.47" height="10.44" fill="#f7ce88" stroke="#a6a6a2" stroke-width="1.2"/>
<rect x="304.54" y="282.40" width="10.47" height="10.44" fill="#f8de98" stroke="#a6a6a2" stroke-width="1.2"/>
<rect x="315.00" y="282.40" width="10.47" height="10.44" fill="#f8de98" stroke="#a6a6a2" stroke-width="1.2"/>
<rect x="325.47" y="282.40" width="10.47" height="10.44" fill="#f6f4c4" stroke="#a6a6a2" stroke-width="1.2"/>
<rect x="335.94" y="282.40" width="10.47" height="10.44" fill="#f8e39e" stroke="#a6a6a2" stroke-width="1.2"/>
<rect x="346.41" y="282.40" width="10.47" height="10.44" fill="#f8da92" stroke="#a6a6a2" stroke-width="1.2"/>
<rect x="356.88" y="282.40" width="10.47" height="10.44" fill="#eef3d5" stroke="#a6a6a2" stroke-width="1.2"/>
<rect x="367.34" y="282.40" width="10.47" height="10.44" fill="#eef3d5" stroke="#a6a6a2" stroke-width="1.2"/>
<rect x="377.81" y="282.40" width="10.47" height="10.44" fill="#f8eaad" stroke="#a6a6a2" stroke-width="1.2"/>
<rect x="388.28" y="282.40" width="10.47" height="10.44" fill="#f8e7a5" stroke="#a6a6a2" stroke-width="1.2"/>
<rect x="398.75" y="282.40" width="10.47" height="10.44" fill="#f8f0b8" stroke="#a6a6a2" stroke-width="1.2"/>
<rect x="409.22" y="282.40" width="10.47" height="10.44" fill="#f7f1bc" stroke="#a6a6a2" stroke-width="1.2"/>
<rect x="419.68" y="282.40" width="10.47" height="10.44" fill="#f8da92" stroke="#a6a6a2" stroke-width="1.2"/>
<rect x="430.15" y="282.40" width="10.47" height="10.44" fill="#f8e39e" stroke="#a6a6a2" stroke-width="1.2"/>
<rect x="440.62" y="282.40" width="10.47" height="10.44" fill="#f8d68f" stroke="#a6a6a2" stroke-width="1.2"/>
<rect x="451.09" y="282.40" width="10.47" height="10.44" fill="#f2f4cc" stroke="#a6a6a2" stroke-width="1.2"/>
<rect x="461.56" y="282.40" width="10.47" height="10.44" fill="#e6f1e6" stroke="#a6a6a2" stroke-width="1.2"/>
<rect x="472.02" y="282.40" width="10.47" height="10.44" fill="#f7f1bc" stroke="#a6a6a2" stroke-width="1.2"/>
<rect x="482.49" y="282.40" width="10.47" height="10.44" fill="#f7f1bc" stroke="#a6a6a2" stroke-width="1.2"/>
<rect x="492.96" y="282.40" width="10.47" height="10.44" fill="#d2e8f0" stroke="#a6a6a2" stroke-width="1.2"/>
<rect x="503.43" y="282.40" width="10.47" height="10.44" fill="#e2efe8" stroke="#a6a6a2" stroke-width="1.2"/>
<rect x="513.90" y="282.40" width="10.47" height="10.44" fill="#a3c9e0" stroke="#a6a6a2" stroke-width="1.2"/>
<rect x="524.36" y="282.40" width="10.47" height="10.44" fill="#a9cde2" stroke="#a6a6a2" stroke-width="1.2"/>
<rect x="534.83" y="282.40" width="10.47" height="10.44" fill="#d2e8f0" stroke="#a6a6a2" stroke-width="1.2"/>
<rect x="283.60" y="292.84" width="10.47" height="10.44" fill="#f8da92" stroke="#a6a6a2" stroke-width="1.2"/>
<rect x="294.07" y="292.84" width="10.47" height="10.44" fill="#f8d68f" stroke="#a6a6a2" stroke-width="1.2"/>
<rect x="304.54" y="292.84" width="10.47" height="10.44" fill="#f8de98" stroke="#a6a6a2" stroke-width="1.2"/>
<rect x="315.00" y="292.84" width="10.47" height="10.44" fill="#f7d28c" stroke="#a6a6a2" stroke-width="1.2"/>
<rect x="325.47" y="292.84" width="10.47" height="10.44" fill="#e8f2e2" stroke="#a6a6a2" stroke-width="1.2"/>
<rect x="335.94" y="292.84" width="10.47" height="10.44" fill="#f2f4cc" stroke="#a6a6a2" stroke-width="1.2"/>
<rect x="346.41" y="292.84" width="10.47" height="10.44" fill="#f8de98" stroke="#a6a6a2" stroke-width="1.2"/>
<rect x="356.88" y="292.84" width="10.47" height="10.44" fill="#f7f1bc" stroke="#a6a6a2" stroke-width="1.2"/>
<rect x="367.34" y="292.84" width="10.47" height="10.44" fill="#f7f1bc" stroke="#a6a6a2" stroke-width="1.2"/>
<rect x="377.81" y="292.84" width="10.47" height="10.44" fill="#f8f0b8" stroke="#a6a6a2" stroke-width="1.2"/>
<rect x="388.28" y="292.84" width="10.47" height="10.44" fill="#f6f2c0" stroke="#a6a6a2" stroke-width="1.2"/>
<rect x="398.75" y="292.84" width="10.47" height="10.44" fill="#f8eeb4" stroke="#a6a6a2" stroke-width="1.2"/>
<rect x="409.22" y="292.84" width="10.47" height="10.44" fill="#f8eaad" stroke="#a6a6a2" stroke-width="1.2"/>
<rect x="419.68" y="292.84" width="10.47" height="10.44" fill="#f8da92" stroke="#a6a6a2" stroke-width="1.2"/>
<rect x="430.15" y="292.84" width="10.47" height="10.44" fill="#f8e39e" stroke="#a6a6a2" stroke-width="1.2"/>
<rect x="440.62" y="292.84" width="10.47" height="10.44" fill="#f8e39e" stroke="#a6a6a2" stroke-width="1.2"/>
<rect x="451.09" y="292.84" width="10.47" height="10.44" fill="#f2f4cc" stroke="#a6a6a2" stroke-width="1.2"/>
<rect x="461.56" y="292.84" width="10.47" height="10.44" fill="#f2f4cc" stroke="#a6a6a2" stroke-width="1.2"/>
<rect x="472.02" y="292.84" width="10.47" height="10.44" fill="#f2f4cc" stroke="#a6a6a2" stroke-width="1.2"/>
<rect x="482.49" y="292.84" width="10.47" height="10.44" fill="#f8e39e" stroke="#a6a6a2" stroke-width="1.2"/>
<rect x="492.96" y="292.84" width="10.47" height="10.44" fill="#c0dcea" stroke="#a6a6a2" stroke-width="1.2"/>
<rect x="503.43" y="292.84" width="10.47" height="10.44" fill="#a3c9e0" stroke="#a6a6a2" stroke-width="1.2"/>
<rect x="513.90" y="292.84" width="10.47" height="10.44" fill="#afd1e4" stroke="#a6a6a2" stroke-width="1.2"/>
<rect x="524.36" y="292.84" width="10.47" height="10.44" fill="#daecec" stroke="#a6a6a2" stroke-width="1.2"/>
<rect x="534.83" y="292.84" width="10.47" height="10.44" fill="#e2efe8" stroke="#a6a6a2" stroke-width="1.2"/>
<rect x="283.60" y="303.27" width="10.47" height="10.44" fill="#f6bd7b" stroke="#a6a6a2" stroke-width="1.2"/>
<rect x="294.07" y="303.27" width="10.47" height="10.44" fill="#f8eaad" stroke="#a6a6a2" stroke-width="1.2"/>
<rect x="304.54" y="303.27" width="10.47" height="10.44" fill="#f8d68f" stroke="#a6a6a2" stroke-width="1.2"/>
<rect x="315.00" y="303.27" width="10.47" height="10.44" fill="#f8da92" stroke="#a6a6a2" stroke-width="1.2"/>
<rect x="325.47" y="303.27" width="10.47" height="10.44" fill="#f8d68f" stroke="#a6a6a2" stroke-width="1.2"/>
<rect x="335.94" y="303.27" width="10.47" height="10.44" fill="#f2f4cc" stroke="#a6a6a2" stroke-width="1.2"/>
<rect x="346.41" y="303.27" width="10.47" height="10.44" fill="#f6f4c4" stroke="#a6a6a2" stroke-width="1.2"/>
<rect x="356.88" y="303.27" width="10.47" height="10.44" fill="#f8f0b8" stroke="#a6a6a2" stroke-width="1.2"/>
<rect x="367.34" y="303.27" width="10.47" height="10.44" fill="#f8eaad" stroke="#a6a6a2" stroke-width="1.2"/>
<rect x="377.81" y="303.27" width="10.47" height="10.44" fill="#eef3d5" stroke="#a6a6a2" stroke-width="1.2"/>
<rect x="388.28" y="303.27" width="10.47" height="10.44" fill="#f8da92" stroke="#a6a6a2" stroke-width="1.2"/>
<rect x="398.75" y="303.27" width="10.47" height="10.44" fill="#f8de98" stroke="#a6a6a2" stroke-width="1.2"/>
<rect x="409.22" y="303.27" width="10.47" height="10.44" fill="#f8de98" stroke="#a6a6a2" stroke-width="1.2"/>
<rect x="419.68" y="303.27" width="10.47" height="10.44" fill="#f2f4cc" stroke="#a6a6a2" stroke-width="1.2"/>
<rect x="430.15" y="303.27" width="10.47" height="10.44" fill="#f8eeb4" stroke="#a6a6a2" stroke-width="1.2"/>
<rect x="440.62" y="303.27" width="10.47" height="10.44" fill="#f8eaad" stroke="#a6a6a2" stroke-width="1.2"/>
<rect x="451.09" y="303.27" width="10.47" height="10.44" fill="#f8f0b8" stroke="#a6a6a2" stroke-width="1.2"/>
<rect x="461.56" y="303.27" width="10.47" height="10.44" fill="#f2f4cc" stroke="#a6a6a2" stroke-width="1.2"/>
<rect x="472.02" y="303.27" width="10.47" height="10.44" fill="#f2f4cc" stroke="#a6a6a2" stroke-width="1.2"/>
<rect x="482.49" y="303.27" width="10.47" height="10.44" fill="#e6f1e6" stroke="#a6a6a2" stroke-width="1.2"/>
<rect x="492.96" y="303.27" width="10.47" height="10.44" fill="#84b3d6" stroke="#a6a6a2" stroke-width="1.2"/>
<rect x="503.43" y="303.27" width="10.47" height="10.44" fill="#eef3d5" stroke="#a6a6a2" stroke-width="1.2"/>
<rect x="513.90" y="303.27" width="10.47" height="10.44" fill="#f6f4c4" stroke="#a6a6a2" stroke-width="1.2"/>
<rect x="524.36" y="303.27" width="10.47" height="10.44" fill="#c6e0ec" stroke="#a6a6a2" stroke-width="1.2"/>
<rect x="534.83" y="303.27" width="10.47" height="10.44" fill="#cce4ee" stroke="#a6a6a2" stroke-width="1.2"/>
<rect x="283.60" y="313.71" width="10.47" height="10.44" fill="#f4aa6d" stroke="#a6a6a2" stroke-width="1.2"/>
<rect x="294.07" y="313.71" width="10.47" height="10.44" fill="#f8da92" stroke="#a6a6a2" stroke-width="1.2"/>
<rect x="304.54" y="313.71" width="10.47" height="10.44" fill="#f8da92" stroke="#a6a6a2" stroke-width="1.2"/>
<rect x="315.00" y="313.71" width="10.47" height="10.44" fill="#f8da92" stroke="#a6a6a2" stroke-width="1.2"/>
<rect x="325.47" y="313.71" width="10.47" height="10.44" fill="#f6f4c4" stroke="#a6a6a2" stroke-width="1.2"/>
<rect x="335.94" y="313.71" width="10.47" height="10.44" fill="#f2f4cc" stroke="#a6a6a2" stroke-width="1.2"/>
<rect x="346.41" y="313.71" width="10.47" height="10.44" fill="#eaf2de" stroke="#a6a6a2" stroke-width="1.2"/>
<rect x="356.88" y="313.71" width="10.47" height="10.44" fill="#f8eaad" stroke="#a6a6a2" stroke-width="1.2"/>
<rect x="367.34" y="313.71" width="10.47" height="10.44" fill="#f8f0b8" stroke="#a6a6a2" stroke-width="1.2"/>
<rect x="377.81" y="313.71" width="10.47" height="10.44" fill="#f8e7a5" stroke="#a6a6a2" stroke-width="1.2"/>
<rect x="388.28" y="313.71" width="10.47" height="10.44" fill="#f8e39e" stroke="#a6a6a2" stroke-width="1.2"/>
<rect x="398.75" y="313.71" width="10.47" height="10.44" fill="#f8eaad" stroke="#a6a6a2" stroke-width="1.2"/>
<rect x="409.22" y="313.71" width="10.47" height="10.44" fill="#f8e39e" stroke="#a6a6a2" stroke-width="1.2"/>
<rect x="419.68" y="313.71" width="10.47" height="10.44" fill="#f7f1bc" stroke="#a6a6a2" stroke-width="1.2"/>
<rect x="430.15" y="313.71" width="10.47" height="10.44" fill="#f8e7a5" stroke="#a6a6a2" stroke-width="1.2"/>
<rect x="440.62" y="313.71" width="10.47" height="10.44" fill="#f8e7a5" stroke="#a6a6a2" stroke-width="1.2"/>
<rect x="451.09" y="313.71" width="10.47" height="10.44" fill="#f2f4cc" stroke="#a6a6a2" stroke-width="1.2"/>
<rect x="461.56" y="313.71" width="10.47" height="10.44" fill="#f6f4c4" stroke="#a6a6a2" stroke-width="1.2"/>
<rect x="472.02" y="313.71" width="10.47" height="10.44" fill="#f7f1bc" stroke="#a6a6a2" stroke-width="1.2"/>
<rect x="482.49" y="313.71" width="10.47" height="10.44" fill="#f7f1bc" stroke="#a6a6a2" stroke-width="1.2"/>
<rect x="492.96" y="313.71" width="10.47" height="10.44" fill="#84b3d6" stroke="#a6a6a2" stroke-width="1.2"/>
<rect x="503.43" y="313.71" width="10.47" height="10.44" fill="#d2e8f0" stroke="#a6a6a2" stroke-width="1.2"/>
<rect x="513.90" y="313.71" width="10.47" height="10.44" fill="#e2efe8" stroke="#a6a6a2" stroke-width="1.2"/>
<rect x="524.36" y="313.71" width="10.47" height="10.44" fill="#eaf2de" stroke="#a6a6a2" stroke-width="1.2"/>
<rect x="534.83" y="313.71" width="10.47" height="10.44" fill="#e2efe8" stroke="#a6a6a2" stroke-width="1.2"/>
<rect x="283.60" y="324.14" width="10.47" height="10.44" fill="#f5b575" stroke="#a6a6a2" stroke-width="1.2"/>
<rect x="294.07" y="324.14" width="10.47" height="10.44" fill="#f8de98" stroke="#a6a6a2" stroke-width="1.2"/>
<rect x="304.54" y="324.14" width="10.47" height="10.44" fill="#f8da92" stroke="#a6a6a2" stroke-width="1.2"/>
<rect x="315.00" y="324.14" width="10.47" height="10.44" fill="#f8d68f" stroke="#a6a6a2" stroke-width="1.2"/>
<rect x="325.47" y="324.14" width="10.47" height="10.44" fill="#f6f2c0" stroke="#a6a6a2" stroke-width="1.2"/>
<rect x="335.94" y="324.14" width="10.47" height="10.44" fill="#eef3d5" stroke="#a6a6a2" stroke-width="1.2"/>
<rect x="346.41" y="324.14" width="10.47" height="10.44" fill="#ecf2d9" stroke="#a6a6a2" stroke-width="1.2"/>
<rect x="356.88" y="324.14" width="10.47" height="10.44" fill="#f8e39e" stroke="#a6a6a2" stroke-width="1.2"/>
<rect x="367.34" y="324.14" width="10.47" height="10.44" fill="#f8eaad" stroke="#a6a6a2" stroke-width="1.2"/>
<rect x="377.81" y="324.14" width="10.47" height="10.44" fill="#f8f0b8" stroke="#a6a6a2" stroke-width="1.2"/>
<rect x="388.28" y="324.14" width="10.47" height="10.44" fill="#f8e39e" stroke="#a6a6a2" stroke-width="1.2"/>
<rect x="398.75" y="324.14" width="10.47" height="10.44" fill="#f8eeb4" stroke="#a6a6a2" stroke-width="1.2"/>
<rect x="409.22" y="324.14" width="10.47" height="10.44" fill="#f8eaad" stroke="#a6a6a2" stroke-width="1.2"/>
<rect x="419.68" y="324.14" width="10.47" height="10.44" fill="#f7f1bc" stroke="#a6a6a2" stroke-width="1.2"/>
<rect x="430.15" y="324.14" width="10.47" height="10.44" fill="#f8e39e" stroke="#a6a6a2" stroke-width="1.2"/>
<rect x="440.62" y="324.14" width="10.47" height="10.44" fill="#f6f2c0" stroke="#a6a6a2" stroke-width="1.2"/>
<rect x="451.09" y="324.14" width="10.47" height="10.44" fill="#eef3d5" stroke="#a6a6a2" stroke-width="1.2"/>
<rect x="461.56" y="324.14" width="10.47" height="10.44" fill="#f8f0b8" stroke="#a6a6a2" stroke-width="1.2"/>
<rect x="472.02" y="324.14" width="10.47" height="10.44" fill="#f8eeb4" stroke="#a6a6a2" stroke-width="1.2"/>
<rect x="482.49" y="324.14" width="10.47" height="10.44" fill="#f6f4c4" stroke="#a6a6a2" stroke-width="1.2"/>
<rect x="492.96" y="324.14" width="10.47" height="10.44" fill="#6a98c6" stroke="#a6a6a2" stroke-width="1.2"/>
<rect x="503.43" y="324.14" width="10.47" height="10.44" fill="#e6f1e6" stroke="#a6a6a2" stroke-width="1.2"/>
<rect x="513.90" y="324.14" width="10.47" height="10.44" fill="#deedea" stroke="#a6a6a2" stroke-width="1.2"/>
<rect x="524.36" y="324.14" width="10.47" height="10.44" fill="#eef3d5" stroke="#a6a6a2" stroke-width="1.2"/>
<rect x="534.83" y="324.14" width="10.47" height="10.44" fill="#e6f1e6" stroke="#a6a6a2" stroke-width="1.2"/>
<rect x="283.60" y="334.58" width="10.47" height="10.44" fill="#f7d28c" stroke="#a6a6a2" stroke-width="1.2"/>
<rect x="294.07" y="334.58" width="10.47" height="10.44" fill="#f8e7a5" stroke="#a6a6a2" stroke-width="1.2"/>
<rect x="304.54" y="334.58" width="10.47" height="10.44" fill="#f8e7a5" stroke="#a6a6a2" stroke-width="1.2"/>
<rect x="315.00" y="334.58" width="10.47" height="10.44" fill="#f8eaad" stroke="#a6a6a2" stroke-width="1.2"/>
<rect x="325.47" y="334.58" width="10.47" height="10.44" fill="#f2f4cc" stroke="#a6a6a2" stroke-width="1.2"/>
<rect x="335.94" y="334.58" width="10.47" height="10.44" fill="#eef3d5" stroke="#a6a6a2" stroke-width="1.2"/>
<rect x="346.41" y="334.58" width="10.47" height="10.44" fill="#ecf2d9" stroke="#a6a6a2" stroke-width="1.2"/>
<rect x="356.88" y="334.58" width="10.47" height="10.44" fill="#f8da92" stroke="#a6a6a2" stroke-width="1.2"/>
<rect x="367.34" y="334.58" width="10.47" height="10.44" fill="#f8eaad" stroke="#a6a6a2" stroke-width="1.2"/>
<rect x="377.81" y="334.58" width="10.47" height="10.44" fill="#f8da92" stroke="#a6a6a2" stroke-width="1.2"/>
<rect x="388.28" y="334.58" width="10.47" height="10.44" fill="#f8eaad" stroke="#a6a6a2" stroke-width="1.2"/>
<rect x="398.75" y="334.58" width="10.47" height="10.44" fill="#f8f0b8" stroke="#a6a6a2" stroke-width="1.2"/>
<rect x="409.22" y="334.58" width="10.47" height="10.44" fill="#f8f0b8" stroke="#a6a6a2" stroke-width="1.2"/>
<rect x="419.68" y="334.58" width="10.47" height="10.44" fill="#f7f1bc" stroke="#a6a6a2" stroke-width="1.2"/>
<rect x="430.15" y="334.58" width="10.47" height="10.44" fill="#f8eaad" stroke="#a6a6a2" stroke-width="1.2"/>
<rect x="440.62" y="334.58" width="10.47" height="10.44" fill="#f8e39e" stroke="#a6a6a2" stroke-width="1.2"/>
<rect x="451.09" y="334.58" width="10.47" height="10.44" fill="#f8f0b8" stroke="#a6a6a2" stroke-width="1.2"/>
<rect x="461.56" y="334.58" width="10.47" height="10.44" fill="#f8f0b8" stroke="#a6a6a2" stroke-width="1.2"/>
<rect x="472.02" y="334.58" width="10.47" height="10.44" fill="#f7f1bc" stroke="#a6a6a2" stroke-width="1.2"/>
<rect x="482.49" y="334.58" width="10.47" height="10.44" fill="#f8eeb4" stroke="#a6a6a2" stroke-width="1.2"/>
<rect x="492.96" y="334.58" width="10.47" height="10.44" fill="#6e9cc9" stroke="#a6a6a2" stroke-width="1.2"/>
<rect x="503.43" y="334.58" width="10.47" height="10.44" fill="#c6e0ec" stroke="#a6a6a2" stroke-width="1.2"/>
<rect x="513.90" y="334.58" width="10.47" height="10.44" fill="#e8f2e2" stroke="#a6a6a2" stroke-width="1.2"/>
<rect x="524.36" y="334.58" width="10.47" height="10.44" fill="#eaf2de" stroke="#a6a6a2" stroke-width="1.2"/>
<rect x="534.83" y="334.58" width="10.47" height="10.44" fill="#e6f1e6" stroke="#a6a6a2" stroke-width="1.2"/>
<rect x="283.60" y="345.02" width="10.47" height="10.44" fill="#f7ce88" stroke="#a6a6a2" stroke-width="1.2"/>
<rect x="294.07" y="345.02" width="10.47" height="10.44" fill="#f8de98" stroke="#a6a6a2" stroke-width="1.2"/>
<rect x="304.54" y="345.02" width="10.47" height="10.44" fill="#f8e39e" stroke="#a6a6a2" stroke-width="1.2"/>
<rect x="315.00" y="345.02" width="10.47" height="10.44" fill="#f8e7a5" stroke="#a6a6a2" stroke-width="1.2"/>
<rect x="325.47" y="345.02" width="10.47" height="10.44" fill="#ecf2d9" stroke="#a6a6a2" stroke-width="1.2"/>
<rect x="335.94" y="345.02" width="10.47" height="10.44" fill="#f7f1bc" stroke="#a6a6a2" stroke-width="1.2"/>
<rect x="346.41" y="345.02" width="10.47" height="10.44" fill="#f6f2c0" stroke="#a6a6a2" stroke-width="1.2"/>
<rect x="356.88" y="345.02" width="10.47" height="10.44" fill="#f8e39e" stroke="#a6a6a2" stroke-width="1.2"/>
<rect x="367.34" y="345.02" width="10.47" height="10.44" fill="#f8eeb4" stroke="#a6a6a2" stroke-width="1.2"/>
<rect x="377.81" y="345.02" width="10.47" height="10.44" fill="#f8f0b8" stroke="#a6a6a2" stroke-width="1.2"/>
<rect x="388.28" y="345.02" width="10.47" height="10.44" fill="#f8eeb4" stroke="#a6a6a2" stroke-width="1.2"/>
<rect x="398.75" y="345.02" width="10.47" height="10.44" fill="#f8eeb4" stroke="#a6a6a2" stroke-width="1.2"/>
<rect x="409.22" y="345.02" width="10.47" height="10.44" fill="#f8eaad" stroke="#a6a6a2" stroke-width="1.2"/>
<rect x="419.68" y="345.02" width="10.47" height="10.44" fill="#f8f0b8" stroke="#a6a6a2" stroke-width="1.2"/>
<rect x="430.15" y="345.02" width="10.47" height="10.44" fill="#f8eeb4" stroke="#a6a6a2" stroke-width="1.2"/>
<rect x="440.62" y="345.02" width="10.47" height="10.44" fill="#f8eaad" stroke="#a6a6a2" stroke-width="1.2"/>
<rect x="451.09" y="345.02" width="10.47" height="10.44" fill="#f6f2c0" stroke="#a6a6a2" stroke-width="1.2"/>
<rect x="461.56" y="345.02" width="10.47" height="10.44" fill="#f7f1bc" stroke="#a6a6a2" stroke-width="1.2"/>
<rect x="472.02" y="345.02" width="10.47" height="10.44" fill="#f6f2c0" stroke="#a6a6a2" stroke-width="1.2"/>
<rect x="482.49" y="345.02" width="10.47" height="10.44" fill="#f8eaad" stroke="#a6a6a2" stroke-width="1.2"/>
<rect x="492.96" y="345.02" width="10.47" height="10.44" fill="#4f7fb8" stroke="#a6a6a2" stroke-width="1.2"/>
<rect x="503.43" y="345.02" width="10.47" height="10.44" fill="#eaf2de" stroke="#a6a6a2" stroke-width="1.2"/>
<rect x="513.90" y="345.02" width="10.47" height="10.44" fill="#daecec" stroke="#a6a6a2" stroke-width="1.2"/>
<rect x="524.36" y="345.02" width="10.47" height="10.44" fill="#eaf2de" stroke="#a6a6a2" stroke-width="1.2"/>
<rect x="534.83" y="345.02" width="10.47" height="10.44" fill="#eaf2de" stroke="#a6a6a2" stroke-width="1.2"/>
<rect x="283.60" y="355.45" width="10.47" height="10.44" fill="#f5b575" stroke="#a6a6a2" stroke-width="1.2"/>
<rect x="294.07" y="355.45" width="10.47" height="10.44" fill="#f7ce88" stroke="#a6a6a2" stroke-width="1.2"/>
<rect x="304.54" y="355.45" width="10.47" height="10.44" fill="#f8da92" stroke="#a6a6a2" stroke-width="1.2"/>
<rect x="315.00" y="355.45" width="10.47" height="10.44" fill="#f8e39e" stroke="#a6a6a2" stroke-width="1.2"/>
<rect x="325.47" y="355.45" width="10.47" height="10.44" fill="#eef3d5" stroke="#a6a6a2" stroke-width="1.2"/>
<rect x="335.94" y="355.45" width="10.47" height="10.44" fill="#f7f1bc" stroke="#a6a6a2" stroke-width="1.2"/>
<rect x="346.41" y="355.45" width="10.47" height="10.44" fill="#f8f0b8" stroke="#a6a6a2" stroke-width="1.2"/>
<rect x="356.88" y="355.45" width="10.47" height="10.44" fill="#f8d68f" stroke="#a6a6a2" stroke-width="1.2"/>
<rect x="367.34" y="355.45" width="10.47" height="10.44" fill="#f8f0b8" stroke="#a6a6a2" stroke-width="1.2"/>
<rect x="377.81" y="355.45" width="10.47" height="10.44" fill="#f8e39e" stroke="#a6a6a2" stroke-width="1.2"/>
<rect x="388.28" y="355.45" width="10.47" height="10.44" fill="#f8eeb4" stroke="#a6a6a2" stroke-width="1.2"/>
<rect x="398.75" y="355.45" width="10.47" height="10.44" fill="#f8f0b8" stroke="#a6a6a2" stroke-width="1.2"/>
<rect x="409.22" y="355.45" width="10.47" height="10.44" fill="#f8f0b8" stroke="#a6a6a2" stroke-width="1.2"/>
<rect x="419.68" y="355.45" width="10.47" height="10.44" fill="#f8f0b8" stroke="#a6a6a2" stroke-width="1.2"/>
<rect x="430.15" y="355.45" width="10.47" height="10.44" fill="#f8da92" stroke="#a6a6a2" stroke-width="1.2"/>
<rect x="440.62" y="355.45" width="10.47" height="10.44" fill="#f8eeb4" stroke="#a6a6a2" stroke-width="1.2"/>
<rect x="451.09" y="355.45" width="10.47" height="10.44" fill="#f6f2c0" stroke="#a6a6a2" stroke-width="1.2"/>
<rect x="461.56" y="355.45" width="10.47" height="10.44" fill="#f2f4cc" stroke="#a6a6a2" stroke-width="1.2"/>
<rect x="472.02" y="355.45" width="10.47" height="10.44" fill="#f2f4cc" stroke="#a6a6a2" stroke-width="1.2"/>
<rect x="482.49" y="355.45" width="10.47" height="10.44" fill="#f2f4cc" stroke="#a6a6a2" stroke-width="1.2"/>
<rect x="492.96" y="355.45" width="10.47" height="10.44" fill="#80aed3" stroke="#a6a6a2" stroke-width="1.2"/>
<rect x="503.43" y="355.45" width="10.47" height="10.44" fill="#cce4ee" stroke="#a6a6a2" stroke-width="1.2"/>
<rect x="513.90" y="355.45" width="10.47" height="10.44" fill="#e6f1e6" stroke="#a6a6a2" stroke-width="1.2"/>
<rect x="524.36" y="355.45" width="10.47" height="10.44" fill="#f2f4cc" stroke="#a6a6a2" stroke-width="1.2"/>
<rect x="534.83" y="355.45" width="10.47" height="10.44" fill="#e2efe8" stroke="#a6a6a2" stroke-width="1.2"/>
<rect x="283.60" y="365.89" width="10.47" height="10.44" fill="#f7ce88" stroke="#a6a6a2" stroke-width="1.2"/>
<rect x="294.07" y="365.89" width="10.47" height="10.44" fill="#f5b978" stroke="#a6a6a2" stroke-width="1.2"/>
<rect x="304.54" y="365.89" width="10.47" height="10.44" fill="#f8de98" stroke="#a6a6a2" stroke-width="1.2"/>
<rect x="315.00" y="365.89" width="10.47" height="10.44" fill="#f8eaad" stroke="#a6a6a2" stroke-width="1.2"/>
<rect x="325.47" y="365.89" width="10.47" height="10.44" fill="#ecf2d9" stroke="#a6a6a2" stroke-width="1.2"/>
<rect x="335.94" y="365.89" width="10.47" height="10.44" fill="#eef3d5" stroke="#a6a6a2" stroke-width="1.2"/>
<rect x="346.41" y="365.89" width="10.47" height="10.44" fill="#f2f4cc" stroke="#a6a6a2" stroke-width="1.2"/>
<rect x="356.88" y="365.89" width="10.47" height="10.44" fill="#f8da92" stroke="#a6a6a2" stroke-width="1.2"/>
<rect x="367.34" y="365.89" width="10.47" height="10.44" fill="#f8eaad" stroke="#a6a6a2" stroke-width="1.2"/>
<rect x="377.81" y="365.89" width="10.47" height="10.44" fill="#f8d68f" stroke="#a6a6a2" stroke-width="1.2"/>
<rect x="388.28" y="365.89" width="10.47" height="10.44" fill="#f8e39e" stroke="#a6a6a2" stroke-width="1.2"/>
<rect x="398.75" y="365.89" width="10.47" height="10.44" fill="#f6f4c4" stroke="#a6a6a2" stroke-width="1.2"/>
<rect x="409.22" y="365.89" width="10.47" height="10.44" fill="#f7f1bc" stroke="#a6a6a2" stroke-width="1.2"/>
<rect x="419.68" y="365.89" width="10.47" height="10.44" fill="#f7f1bc" stroke="#a6a6a2" stroke-width="1.2"/>
<rect x="430.15" y="365.89" width="10.47" height="10.44" fill="#f8de98" stroke="#a6a6a2" stroke-width="1.2"/>
<rect x="440.62" y="365.89" width="10.47" height="10.44" fill="#f8eaad" stroke="#a6a6a2" stroke-width="1.2"/>
<rect x="451.09" y="365.89" width="10.47" height="10.44" fill="#f7f1bc" stroke="#a6a6a2" stroke-width="1.2"/>
<rect x="461.56" y="365.89" width="10.47" height="10.44" fill="#f8e39e" stroke="#a6a6a2" stroke-width="1.2"/>
<rect x="472.02" y="365.89" width="10.47" height="10.44" fill="#f6f4c4" stroke="#a6a6a2" stroke-width="1.2"/>
<rect x="482.49" y="365.89" width="10.47" height="10.44" fill="#f8eeb4" stroke="#a6a6a2" stroke-width="1.2"/>
<rect x="492.96" y="365.89" width="10.47" height="10.44" fill="#96c0dc" stroke="#a6a6a2" stroke-width="1.2"/>
<rect x="503.43" y="365.89" width="10.47" height="10.44" fill="#d6eaee" stroke="#a6a6a2" stroke-width="1.2"/>
<rect x="513.90" y="365.89" width="10.47" height="10.44" fill="#d6eaee" stroke="#a6a6a2" stroke-width="1.2"/>
<rect x="524.36" y="365.89" width="10.47" height="10.44" fill="#ecf2d9" stroke="#a6a6a2" stroke-width="1.2"/>
<rect x="534.83" y="365.89" width="10.47" height="10.44" fill="#d6eaee" stroke="#a6a6a2" stroke-width="1.2"/>
<rect x="283.60" y="376.32" width="10.47" height="10.44" fill="#e8f2e2" stroke="#a6a6a2" stroke-width="1.2"/>
<rect x="294.07" y="376.32" width="10.47" height="10.44" fill="#eaf2de" stroke="#a6a6a2" stroke-width="1.2"/>
<rect x="304.54" y="376.32" width="10.47" height="10.44" fill="#ecf2d9" stroke="#a6a6a2" stroke-width="1.2"/>
<rect x="315.00" y="376.32" width="10.47" height="10.44" fill="#eaf2de" stroke="#a6a6a2" stroke-width="1.2"/>
<rect x="325.47" y="376.32" width="10.47" height="10.44" fill="#eef3d5" stroke="#a6a6a2" stroke-width="1.2"/>
<rect x="335.94" y="376.32" width="10.47" height="10.44" fill="#ecf2d9" stroke="#a6a6a2" stroke-width="1.2"/>
<rect x="346.41" y="376.32" width="10.47" height="10.44" fill="#cce4ee" stroke="#a6a6a2" stroke-width="1.2"/>
<rect x="356.88" y="376.32" width="10.47" height="10.44" fill="#f6f2c0" stroke="#a6a6a2" stroke-width="1.2"/>
<rect x="367.34" y="376.32" width="10.47" height="10.44" fill="#f8e39e" stroke="#a6a6a2" stroke-width="1.2"/>
<rect x="377.81" y="376.32" width="10.47" height="10.44" fill="#f8e39e" stroke="#a6a6a2" stroke-width="1.2"/>
<rect x="388.28" y="376.32" width="10.47" height="10.44" fill="#f2f4cc" stroke="#a6a6a2" stroke-width="1.2"/>
<rect x="398.75" y="376.32" width="10.47" height="10.44" fill="#ecf2d9" stroke="#a6a6a2" stroke-width="1.2"/>
<rect x="409.22" y="376.32" width="10.47" height="10.44" fill="#f2f4cc" stroke="#a6a6a2" stroke-width="1.2"/>
<rect x="419.68" y="376.32" width="10.47" height="10.44" fill="#f6f4c4" stroke="#a6a6a2" stroke-width="1.2"/>
<rect x="430.15" y="376.32" width="10.47" height="10.44" fill="#f6f2c0" stroke="#a6a6a2" stroke-width="1.2"/>
<rect x="440.62" y="376.32" width="10.47" height="10.44" fill="#ecf2d9" stroke="#a6a6a2" stroke-width="1.2"/>
<rect x="451.09" y="376.32" width="10.47" height="10.44" fill="#f8eeb4" stroke="#a6a6a2" stroke-width="1.2"/>
<rect x="461.56" y="376.32" width="10.47" height="10.44" fill="#f3a569" stroke="#a6a6a2" stroke-width="1.2"/>
<rect x="472.02" y="376.32" width="10.47" height="10.44" fill="#f6f4c4" stroke="#a6a6a2" stroke-width="1.2"/>
<rect x="482.49" y="376.32" width="10.47" height="10.44" fill="#f8eeb4" stroke="#a6a6a2" stroke-width="1.2"/>
<rect x="492.96" y="376.32" width="10.47" height="10.44" fill="#ea7a50" stroke="#a6a6a2" stroke-width="1.2"/>
<rect x="503.43" y="376.32" width="10.47" height="10.44" fill="#f8f0b8" stroke="#a6a6a2" stroke-width="1.2"/>
<rect x="513.90" y="376.32" width="10.47" height="10.44" fill="#f6c17f" stroke="#a6a6a2" stroke-width="1.2"/>
<rect x="524.36" y="376.32" width="10.47" height="10.44" fill="#f8e39e" stroke="#a6a6a2" stroke-width="1.2"/>
<rect x="534.83" y="376.32" width="10.47" height="10.44" fill="#f8eaad" stroke="#a6a6a2" stroke-width="1.2"/>
<rect x="283.60" y="386.76" width="10.47" height="10.44" fill="#eef3d5" stroke="#a6a6a2" stroke-width="1.2"/>
<rect x="294.07" y="386.76" width="10.47" height="10.44" fill="#e2efe8" stroke="#a6a6a2" stroke-width="1.2"/>
<rect x="304.54" y="386.76" width="10.47" height="10.44" fill="#f2f4cc" stroke="#a6a6a2" stroke-width="1.2"/>
<rect x="315.00" y="386.76" width="10.47" height="10.44" fill="#f2f4cc" stroke="#a6a6a2" stroke-width="1.2"/>
<rect x="325.47" y="386.76" width="10.47" height="10.44" fill="#f8da92" stroke="#a6a6a2" stroke-width="1.2"/>
<rect x="335.94" y="386.76" width="10.47" height="10.44" fill="#eef3d5" stroke="#a6a6a2" stroke-width="1.2"/>
<rect x="346.41" y="386.76" width="10.47" height="10.44" fill="#f6f2c0" stroke="#a6a6a2" stroke-width="1.2"/>
<rect x="356.88" y="386.76" width="10.47" height="10.44" fill="#f2f4cc" stroke="#a6a6a2" stroke-width="1.2"/>
<rect x="367.34" y="386.76" width="10.47" height="10.44" fill="#eef3d5" stroke="#a6a6a2" stroke-width="1.2"/>
<rect x="377.81" y="386.76" width="10.47" height="10.44" fill="#eaf2de" stroke="#a6a6a2" stroke-width="1.2"/>
<rect x="388.28" y="386.76" width="10.47" height="10.44" fill="#f6f4c4" stroke="#a6a6a2" stroke-width="1.2"/>
<rect x="398.75" y="386.76" width="10.47" height="10.44" fill="#f6f2c0" stroke="#a6a6a2" stroke-width="1.2"/>
<rect x="409.22" y="386.76" width="10.47" height="10.44" fill="#f8f0b8" stroke="#a6a6a2" stroke-width="1.2"/>
<rect x="419.68" y="386.76" width="10.47" height="10.44" fill="#f6f4c4" stroke="#a6a6a2" stroke-width="1.2"/>
<rect x="430.15" y="386.76" width="10.47" height="10.44" fill="#eef3d5" stroke="#a6a6a2" stroke-width="1.2"/>
<rect x="440.62" y="386.76" width="10.47" height="10.44" fill="#f6f4c4" stroke="#a6a6a2" stroke-width="1.2"/>
<rect x="451.09" y="386.76" width="10.47" height="10.44" fill="#f8eeb4" stroke="#a6a6a2" stroke-width="1.2"/>
<rect x="461.56" y="386.76" width="10.47" height="10.44" fill="#f8f0b8" stroke="#a6a6a2" stroke-width="1.2"/>
<rect x="472.02" y="386.76" width="10.47" height="10.44" fill="#f8eeb4" stroke="#a6a6a2" stroke-width="1.2"/>
<rect x="482.49" y="386.76" width="10.47" height="10.44" fill="#e8f2e2" stroke="#a6a6a2" stroke-width="1.2"/>
<rect x="492.96" y="386.76" width="10.47" height="10.44" fill="#d03028" stroke="#a6a6a2" stroke-width="1.2"/>
<rect x="503.43" y="386.76" width="10.47" height="10.44" fill="#f8e39e" stroke="#a6a6a2" stroke-width="1.2"/>
<rect x="513.90" y="386.76" width="10.47" height="10.44" fill="#f8f0b8" stroke="#a6a6a2" stroke-width="1.2"/>
<rect x="524.36" y="386.76" width="10.47" height="10.44" fill="#f8eaad" stroke="#a6a6a2" stroke-width="1.2"/>
<rect x="534.83" y="386.76" width="10.47" height="10.44" fill="#f8da92" stroke="#a6a6a2" stroke-width="1.2"/>
<rect x="283.60" y="397.20" width="10.47" height="10.44" fill="#daecec" stroke="#a6a6a2" stroke-width="1.2"/>
<rect x="294.07" y="397.20" width="10.47" height="10.44" fill="#daecec" stroke="#a6a6a2" stroke-width="1.2"/>
<rect x="304.54" y="397.20" width="10.47" height="10.44" fill="#eef3d5" stroke="#a6a6a2" stroke-width="1.2"/>
<rect x="315.00" y="397.20" width="10.47" height="10.44" fill="#eaf2de" stroke="#a6a6a2" stroke-width="1.2"/>
<rect x="325.47" y="397.20" width="10.47" height="10.44" fill="#f8e39e" stroke="#a6a6a2" stroke-width="1.2"/>
<rect x="335.94" y="397.20" width="10.47" height="10.44" fill="#f8d68f" stroke="#a6a6a2" stroke-width="1.2"/>
<rect x="346.41" y="397.20" width="10.47" height="10.44" fill="#f7f1bc" stroke="#a6a6a2" stroke-width="1.2"/>
<rect x="356.88" y="397.20" width="10.47" height="10.44" fill="#ecf2d9" stroke="#a6a6a2" stroke-width="1.2"/>
<rect x="367.34" y="397.20" width="10.47" height="10.44" fill="#f8f0b8" stroke="#a6a6a2" stroke-width="1.2"/>
<rect x="377.81" y="397.20" width="10.47" height="10.44" fill="#f6f4c4" stroke="#a6a6a2" stroke-width="1.2"/>
<rect x="388.28" y="397.20" width="10.47" height="10.44" fill="#f8f0b8" stroke="#a6a6a2" stroke-width="1.2"/>
<rect x="398.75" y="397.20" width="10.47" height="10.44" fill="#f2f4cc" stroke="#a6a6a2" stroke-width="1.2"/>
<rect x="409.22" y="397.20" width="10.47" height="10.44" fill="#eef3d5" stroke="#a6a6a2" stroke-width="1.2"/>
<rect x="419.68" y="397.20" width="10.47" height="10.44" fill="#f2f4cc" stroke="#a6a6a2" stroke-width="1.2"/>
<rect x="430.15" y="397.20" width="10.47" height="10.44" fill="#ecf2d9" stroke="#a6a6a2" stroke-width="1.2"/>
<rect x="440.62" y="397.20" width="10.47" height="10.44" fill="#f2f4cc" stroke="#a6a6a2" stroke-width="1.2"/>
<rect x="451.09" y="397.20" width="10.47" height="10.44" fill="#f8f0b8" stroke="#a6a6a2" stroke-width="1.2"/>
<rect x="461.56" y="397.20" width="10.47" height="10.44" fill="#f7f1bc" stroke="#a6a6a2" stroke-width="1.2"/>
<rect x="472.02" y="397.20" width="10.47" height="10.44" fill="#f6f2c0" stroke="#a6a6a2" stroke-width="1.2"/>
<rect x="482.49" y="397.20" width="10.47" height="10.44" fill="#ecf2d9" stroke="#a6a6a2" stroke-width="1.2"/>
<rect x="492.96" y="397.20" width="10.47" height="10.44" fill="#ea7a50" stroke="#a6a6a2" stroke-width="1.2"/>
<rect x="503.43" y="397.20" width="10.47" height="10.44" fill="#f5b978" stroke="#a6a6a2" stroke-width="1.2"/>
<rect x="513.90" y="397.20" width="10.47" height="10.44" fill="#f8da92" stroke="#a6a6a2" stroke-width="1.2"/>
<rect x="524.36" y="397.20" width="10.47" height="10.44" fill="#f8f0b8" stroke="#a6a6a2" stroke-width="1.2"/>
<rect x="534.83" y="397.20" width="10.47" height="10.44" fill="#f8da92" stroke="#a6a6a2" stroke-width="1.2"/>
<rect x="283.60" y="407.63" width="10.47" height="10.44" fill="#eef3d5" stroke="#a6a6a2" stroke-width="1.2"/>
<rect x="294.07" y="407.63" width="10.47" height="10.44" fill="#eef3d5" stroke="#a6a6a2" stroke-width="1.2"/>
<rect x="304.54" y="407.63" width="10.47" height="10.44" fill="#eef3d5" stroke="#a6a6a2" stroke-width="1.2"/>
<rect x="315.00" y="407.63" width="10.47" height="10.44" fill="#ecf2d9" stroke="#a6a6a2" stroke-width="1.2"/>
<rect x="325.47" y="407.63" width="10.47" height="10.44" fill="#f8eaad" stroke="#a6a6a2" stroke-width="1.2"/>
<rect x="335.94" y="407.63" width="10.47" height="10.44" fill="#f2f4cc" stroke="#a6a6a2" stroke-width="1.2"/>
<rect x="346.41" y="407.63" width="10.47" height="10.44" fill="#f6f4c4" stroke="#a6a6a2" stroke-width="1.2"/>
<rect x="356.88" y="407.63" width="10.47" height="10.44" fill="#eef3d5" stroke="#a6a6a2" stroke-width="1.2"/>
<rect x="367.34" y="407.63" width="10.47" height="10.44" fill="#eef3d5" stroke="#a6a6a2" stroke-width="1.2"/>
<rect x="377.81" y="407.63" width="10.47" height="10.44" fill="#f2f4cc" stroke="#a6a6a2" stroke-width="1.2"/>
<rect x="388.28" y="407.63" width="10.47" height="10.44" fill="#f6f4c4" stroke="#a6a6a2" stroke-width="1.2"/>
<rect x="398.75" y="407.63" width="10.47" height="10.44" fill="#f2f4cc" stroke="#a6a6a2" stroke-width="1.2"/>
<rect x="409.22" y="407.63" width="10.47" height="10.44" fill="#eef3d5" stroke="#a6a6a2" stroke-width="1.2"/>
<rect x="419.68" y="407.63" width="10.47" height="10.44" fill="#f2f4cc" stroke="#a6a6a2" stroke-width="1.2"/>
<rect x="430.15" y="407.63" width="10.47" height="10.44" fill="#eef3d5" stroke="#a6a6a2" stroke-width="1.2"/>
<rect x="440.62" y="407.63" width="10.47" height="10.44" fill="#f6f2c0" stroke="#a6a6a2" stroke-width="1.2"/>
<rect x="451.09" y="407.63" width="10.47" height="10.44" fill="#f8f0b8" stroke="#a6a6a2" stroke-width="1.2"/>
<rect x="461.56" y="407.63" width="10.47" height="10.44" fill="#f6f4c4" stroke="#a6a6a2" stroke-width="1.2"/>
<rect x="472.02" y="407.63" width="10.47" height="10.44" fill="#f4b071" stroke="#a6a6a2" stroke-width="1.2"/>
<rect x="482.49" y="407.63" width="10.47" height="10.44" fill="#f8d68f" stroke="#a6a6a2" stroke-width="1.2"/>
<rect x="492.96" y="407.63" width="10.47" height="10.44" fill="#f8f0b8" stroke="#a6a6a2" stroke-width="1.2"/>
<rect x="503.43" y="407.63" width="10.47" height="10.44" fill="#d3382c" stroke="#a6a6a2" stroke-width="1.2"/>
<rect x="513.90" y="407.63" width="10.47" height="10.44" fill="#f8f0b8" stroke="#a6a6a2" stroke-width="1.2"/>
<rect x="524.36" y="407.63" width="10.47" height="10.44" fill="#f8f0b8" stroke="#a6a6a2" stroke-width="1.2"/>
<rect x="534.83" y="407.63" width="10.47" height="10.44" fill="#f8f0b8" stroke="#a6a6a2" stroke-width="1.2"/>
<rect x="283.60" y="418.07" width="10.47" height="10.44" fill="#f2f4cc" stroke="#a6a6a2" stroke-width="1.2"/>
<rect x="294.07" y="418.07" width="10.47" height="10.44" fill="#ecf2d9" stroke="#a6a6a2" stroke-width="1.2"/>
<rect x="304.54" y="418.07" width="10.47" height="10.44" fill="#eaf2de" stroke="#a6a6a2" stroke-width="1.2"/>
<rect x="315.00" y="418.07" width="10.47" height="10.44" fill="#eef3d5" stroke="#a6a6a2" stroke-width="1.2"/>
<rect x="325.47" y="418.07" width="10.47" height="10.44" fill="#f8e39e" stroke="#a6a6a2" stroke-width="1.2"/>
<rect x="335.94" y="418.07" width="10.47" height="10.44" fill="#e05a3a" stroke="#a6a6a2" stroke-width="1.2"/>
<rect x="346.41" y="418.07" width="10.47" height="10.44" fill="#f8de98" stroke="#a6a6a2" stroke-width="1.2"/>
<rect x="356.88" y="418.07" width="10.47" height="10.44" fill="#f2f4cc" stroke="#a6a6a2" stroke-width="1.2"/>
<rect x="367.34" y="418.07" width="10.47" height="10.44" fill="#ecf2d9" stroke="#a6a6a2" stroke-width="1.2"/>
<rect x="377.81" y="418.07" width="10.47" height="10.44" fill="#eef3d5" stroke="#a6a6a2" stroke-width="1.2"/>
<rect x="388.28" y="418.07" width="10.47" height="10.44" fill="#f6f2c0" stroke="#a6a6a2" stroke-width="1.2"/>
<rect x="398.75" y="418.07" width="10.47" height="10.44" fill="#f7f1bc" stroke="#a6a6a2" stroke-width="1.2"/>
<rect x="409.22" y="418.07" width="10.47" height="10.44" fill="#f2f4cc" stroke="#a6a6a2" stroke-width="1.2"/>
<rect x="419.68" y="418.07" width="10.47" height="10.44" fill="#f2f4cc" stroke="#a6a6a2" stroke-width="1.2"/>
<rect x="430.15" y="418.07" width="10.47" height="10.44" fill="#f7f1bc" stroke="#a6a6a2" stroke-width="1.2"/>
<rect x="440.62" y="418.07" width="10.47" height="10.44" fill="#f6f2c0" stroke="#a6a6a2" stroke-width="1.2"/>
<rect x="451.09" y="418.07" width="10.47" height="10.44" fill="#ecf2d9" stroke="#a6a6a2" stroke-width="1.2"/>
<rect x="461.56" y="418.07" width="10.47" height="10.44" fill="#eef3d5" stroke="#a6a6a2" stroke-width="1.2"/>
<rect x="472.02" y="418.07" width="10.47" height="10.44" fill="#eef3d5" stroke="#a6a6a2" stroke-width="1.2"/>
<rect x="482.49" y="418.07" width="10.47" height="10.44" fill="#eef3d5" stroke="#a6a6a2" stroke-width="1.2"/>
<rect x="492.96" y="418.07" width="10.47" height="10.44" fill="#f8eeb4" stroke="#a6a6a2" stroke-width="1.2"/>
<rect x="503.43" y="418.07" width="10.47" height="10.44" fill="#f4aa6d" stroke="#a6a6a2" stroke-width="1.2"/>
<rect x="513.90" y="418.07" width="10.47" height="10.44" fill="#f8de98" stroke="#a6a6a2" stroke-width="1.2"/>
<rect x="524.36" y="418.07" width="10.47" height="10.44" fill="#f8e39e" stroke="#a6a6a2" stroke-width="1.2"/>
<rect x="534.83" y="418.07" width="10.47" height="10.44" fill="#f8eaad" stroke="#a6a6a2" stroke-width="1.2"/>
<text x="546.70" y="290.82" font-size="9.5">[R]</text>
<text x="546.70" y="301.25" font-size="9.5">[V]</text>
<text x="546.70" y="311.69" font-size="9.5">[F]</text>
<text x="546.70" y="322.13" font-size="9.5">[H]</text>
<text x="546.70" y="332.56" font-size="9.5">[D]</text>
<text x="546.70" y="343.00" font-size="9.5">[J]</text>
<text x="546.70" y="353.43" font-size="9.5">[O]</text>
<text x="546.70" y="363.87" font-size="9.5">[C]</text>
<text x="546.70" y="374.31" font-size="9.5">[E]</text>
<text x="546.70" y="384.74" font-size="9.5">[L]</text>
<text x="546.70" y="395.18" font-size="9.5">[G]</text>
<text x="546.70" y="405.61" font-size="9.5">[K]</text>
<text x="546.70" y="416.05" font-size="9.5">[A]</text>
<text x="546.70" y="426.49" font-size="9.5">[W]</text>
<text x="291.33" y="431.50" font-size="9.3" text-anchor="end" transform="rotate(-90 291.33 431.50)">B×K_4</text>
<text x="301.80" y="431.50" font-size="9.3" text-anchor="end" transform="rotate(-90 301.80 431.50)">R109B_1</text>
<text x="312.27" y="431.50" font-size="9.3" text-anchor="end" transform="rotate(-90 312.27 431.50)">R109B_3</text>
<text x="322.74" y="431.50" font-size="9.3" text-anchor="end" transform="rotate(-90 322.74 431.50)">B×K_1</text>
<text x="333.21" y="431.50" font-size="9.3" text-anchor="end" transform="rotate(-90 333.21 431.50)">B×R_1</text>
<text x="343.67" y="431.50" font-size="9.3" text-anchor="end" transform="rotate(-90 343.67 431.50)">R109B_4</text>
<text x="354.14" y="431.50" font-size="9.3" text-anchor="end" transform="rotate(-90 354.14 431.50)">R109B_5</text>
<text x="364.61" y="431.50" font-size="9.3" text-anchor="end" transform="rotate(-90 364.61 431.50)">B×K_5</text>
<text x="375.08" y="431.50" font-size="9.3" text-anchor="end" transform="rotate(-90 375.08 431.50)">B73_4</text>
<text x="385.55" y="431.50" font-size="9.3" text-anchor="end" transform="rotate(-90 385.55 431.50)">R109B_2</text>
<text x="396.01" y="431.50" font-size="9.3" text-anchor="end" transform="rotate(-90 396.01 431.50)">B×R_2</text>
<text x="406.48" y="431.50" font-size="9.3" text-anchor="end" transform="rotate(-90 406.48 431.50)">B×K_2</text>
<text x="416.95" y="431.50" font-size="9.3" text-anchor="end" transform="rotate(-90 416.95 431.50)">B×R_3</text>
<text x="427.42" y="431.50" font-size="9.3" text-anchor="end" transform="rotate(-90 427.42 431.50)">B×R_4</text>
<text x="437.89" y="431.50" font-size="9.3" text-anchor="end" transform="rotate(-90 437.89 431.50)">B×K_3</text>
<text x="448.35" y="431.50" font-size="9.3" text-anchor="end" transform="rotate(-90 448.35 431.50)">B×R_5</text>
<text x="458.82" y="431.50" font-size="9.3" text-anchor="end" transform="rotate(-90 458.82 431.50)">B73_1</text>
<text x="469.29" y="431.50" font-size="9.3" text-anchor="end" transform="rotate(-90 469.29 431.50)">B73_5</text>
<text x="479.76" y="431.50" font-size="9.3" text-anchor="end" transform="rotate(-90 479.76 431.50)">B73_2</text>
<text x="490.23" y="431.50" font-size="9.3" text-anchor="end" transform="rotate(-90 490.23 431.50)">B73_3</text>
<text x="500.69" y="431.50" font-size="9.3" text-anchor="end" transform="rotate(-90 500.69 431.50)">Ky228_5</text>
<text x="511.16" y="431.50" font-size="9.3" text-anchor="end" transform="rotate(-90 511.16 431.50)">Ky228_1</text>
<text x="521.63" y="431.50" font-size="9.3" text-anchor="end" transform="rotate(-90 521.63 431.50)">Ky228_4</text>
<text x="532.10" y="431.50" font-size="9.3" text-anchor="end" transform="rotate(-90 532.10 431.50)">Ky228_2</text>
<text x="542.57" y="431.50" font-size="9.3" text-anchor="end" transform="rotate(-90 542.57 431.50)">Ky228_3</text>
<polyline points="529.60,282.40 529.60,279.30 540.07,279.30 540.07,282.40" fill="none" stroke="#000" stroke-width="1.0"/>
<polyline points="519.13,282.40 519.13,277.70 534.83,277.70 534.83,279.30" fill="none" stroke="#000" stroke-width="1.0"/>
<polyline points="508.66,282.40 508.66,272.90 526.98,272.90 526.98,277.70" fill="none" stroke="#000" stroke-width="1.0"/>
<polyline points="498.19,282.40 498.19,268.30 517.82,268.30 517.82,272.90" fill="none" stroke="#000" stroke-width="1.0"/>
<polyline points="309.77,282.40 309.77,280.80 320.24,280.80 320.24,282.40" fill="none" stroke="#000" stroke-width="1.0"/>
<polyline points="299.30,282.40 299.30,278.70 315.00,278.70 315.00,280.80" fill="none" stroke="#000" stroke-width="1.0"/>
<polyline points="288.83,282.40 288.83,278.10 307.15,278.10 307.15,278.70" fill="none" stroke="#000" stroke-width="1.0"/>
<polyline points="341.17,282.40 341.17,276.70 351.64,276.70 351.64,282.40" fill="none" stroke="#000" stroke-width="1.0"/>
<polyline points="330.71,282.40 330.71,275.20 346.41,275.20 346.41,276.70" fill="none" stroke="#000" stroke-width="1.0"/>
<polyline points="456.32,282.40 456.32,277.70 466.79,277.70 466.79,282.40" fill="none" stroke="#000" stroke-width="1.0"/>
<polyline points="477.26,282.40 477.26,277.70 487.73,277.70 487.73,282.40" fill="none" stroke="#000" stroke-width="1.0"/>
<polyline points="461.56,277.70 461.56,275.70 482.49,275.70 482.49,277.70" fill="none" stroke="#000" stroke-width="1.0"/>
<polyline points="372.58,282.40 372.58,279.30 383.05,279.30 383.05,282.40" fill="none" stroke="#000" stroke-width="1.0"/>
<polyline points="362.11,282.40 362.11,278.60 377.81,278.60 377.81,279.30" fill="none" stroke="#000" stroke-width="1.0"/>
<polyline points="403.98,282.40 403.98,279.50 414.45,279.50 414.45,282.40" fill="none" stroke="#000" stroke-width="1.0"/>
<polyline points="393.51,282.40 393.51,279.00 409.22,279.00 409.22,279.50" fill="none" stroke="#000" stroke-width="1.0"/>
<polyline points="435.39,282.40 435.39,279.50 445.85,279.50 445.85,282.40" fill="none" stroke="#000" stroke-width="1.0"/>
<polyline points="424.92,282.40 424.92,279.00 440.62,279.00 440.62,279.50" fill="none" stroke="#000" stroke-width="1.0"/>
<polyline points="401.37,279.00 401.37,278.20 432.77,278.20 432.77,279.00" fill="none" stroke="#000" stroke-width="1.0"/>
<polyline points="369.96,278.60 369.96,277.20 417.07,277.20 417.07,278.20" fill="none" stroke="#000" stroke-width="1.0"/>
<polyline points="393.51,277.20 393.51,273.90 472.02,273.90 472.02,275.70" fill="none" stroke="#000" stroke-width="1.0"/>
<polyline points="338.56,275.20 338.56,271.30 432.77,271.30 432.77,273.90" fill="none" stroke="#000" stroke-width="1.0"/>
<polyline points="297.99,278.10 297.99,268.20 385.66,268.20 385.66,271.30" fill="none" stroke="#000" stroke-width="1.0"/>
<polyline points="341.83,268.20 341.83,254.90 508.01,254.90 508.01,268.30" fill="none" stroke="#000" stroke-width="1.0"/>
<polyline points="283.60,287.62 277.50,287.62 277.50,298.05 283.60,298.05" fill="none" stroke="#000" stroke-width="1.0"/>
<polyline points="283.60,318.93 279.60,318.93 279.60,329.36 283.60,329.36" fill="none" stroke="#000" stroke-width="1.0"/>
<polyline points="283.60,339.80 279.60,339.80 279.60,350.23 283.60,350.23" fill="none" stroke="#000" stroke-width="1.0"/>
<polyline points="279.60,324.14 278.70,324.14 278.70,345.02 279.60,345.02" fill="none" stroke="#000" stroke-width="1.0"/>
<polyline points="283.60,360.67 277.10,360.67 277.10,371.11 283.60,371.11" fill="none" stroke="#000" stroke-width="1.0"/>
<polyline points="278.70,334.58 276.30,334.58 276.30,365.89 277.10,365.89" fill="none" stroke="#000" stroke-width="1.0"/>
<polyline points="283.60,308.49 272.30,308.49 272.30,350.23 276.30,350.23" fill="none" stroke="#000" stroke-width="1.0"/>
<polyline points="277.50,292.84 271.80,292.84 271.80,329.36 272.30,329.36" fill="none" stroke="#000" stroke-width="1.0"/>
<polyline points="283.60,391.98 274.70,391.98 274.70,402.41 283.60,402.41" fill="none" stroke="#000" stroke-width="1.0"/>
<polyline points="283.60,381.54 270.20,381.54 270.20,397.20 274.70,397.20" fill="none" stroke="#000" stroke-width="1.0"/>
<polyline points="283.60,412.85 268.70,412.85 268.70,423.29 283.60,423.29" fill="none" stroke="#000" stroke-width="1.0"/>
<polyline points="270.20,389.37 263.00,389.37 263.00,418.07 268.70,418.07" fill="none" stroke="#000" stroke-width="1.0"/>
<polyline points="271.80,311.10 256.40,311.10 256.40,403.72 263.00,403.72" fill="none" stroke="#000" stroke-width="1.0"/>
<defs><linearGradient id="ck" x1="0" x2="1" y1="0" y2="0"><stop offset="0" stop-color="#d73027"/><stop offset="0.17" stop-color="#f46d43"/><stop offset="0.33" stop-color="#fdae61"/><stop offset="0.5" stop-color="#fee8a0"/><stop offset="0.67" stop-color="#e0f3f8"/><stop offset="0.83" stop-color="#91bfdb"/><stop offset="1" stop-color="#4575b4"/></linearGradient></defs>
<rect x="584.80" y="272.20" width="79.20" height="6.00" fill="url(#ck)"/>
<text x="584.90" y="263.10" font-size="8.5" text-anchor="middle" transform="rotate(90 584.90 263.10)">2</text>
<text x="619.50" y="266.80" font-size="8.5" text-anchor="middle" transform="rotate(90 619.50 266.80)">0</text>
<text x="659.60" y="264.60" font-size="8.5" text-anchor="middle" transform="rotate(90 659.60 264.60)">−2</text>
<text x="565.50" y="282.90" font-size="9" transform="rotate(90 565.50 282.90)">[R]: General function prediction only</text>
<text x="574.22" y="282.90" font-size="9" transform="rotate(90 574.22 282.90)">[V]: Defense mechanisms</text>
<text x="582.94" y="282.90" font-size="9" transform="rotate(90 582.94 282.90)">[F]: Nucleotide transport and metabolism</text>
<text x="591.66" y="282.90" font-size="9" transform="rotate(90 591.66 282.90)">[H]: Coenzyme transport and metabolism</text>
<text x="600.38" y="282.90" font-size="9" transform="rotate(90 600.38 282.90)">[D]: Cell cycle control, cell division, chromosome partitioning</text>
<text x="609.10" y="282.90" font-size="9" transform="rotate(90 609.10 282.90)">[J]: Translation, ribosomal structure and biogenesis</text>
<text x="617.82" y="282.90" font-size="9" transform="rotate(90 617.82 282.90)">[O]: Posttranslational modification, protein turnover, chaperones</text>
<text x="626.54" y="282.90" font-size="9" transform="rotate(90 626.54 282.90)">[C]: Energy production and conversion</text>
<text x="635.26" y="282.90" font-size="9" transform="rotate(90 635.26 282.90)">[E]: Amino acid transport and metabolism</text>
<text x="643.98" y="282.90" font-size="9" transform="rotate(90 643.98 282.90)">[L]: Replication, recombination and repair</text>
<text x="652.70" y="282.90" font-size="9" transform="rotate(90 652.70 282.90)">[G]: Carbohydrate transport and metabolism</text>
<text x="661.42" y="282.90" font-size="9" transform="rotate(90 661.42 282.90)">[K]: Transcription</text>
<text x="670.14" y="282.90" font-size="9" transform="rotate(90 670.14 282.90)">[A]: RNA processing and modification</text>
<text x="678.86" y="282.90" font-size="9" transform="rotate(90 678.86 282.90)">[W]: Extracellular structures</text>
<clipPath id="ce"><rect x="36.7" y="491.7" width="145.39999999999998" height="144.59999999999997"/></clipPath>
<g clip-path="url(#ce)">
<polygon points="43.20,578.61 45.41,578.13 47.63,577.65 49.84,577.17 52.05,576.68 54.27,576.19 56.48,575.70 58.69,575.20 60.91,574.69 63.12,574.18 65.33,573.67 67.55,573.15 69.76,572.62 71.97,572.08 74.19,571.53 76.40,570.98 78.61,570.41 80.83,569.83 83.04,569.24 85.25,568.64 87.47,568.01 89.68,567.37 91.89,566.71 94.11,566.03 96.32,565.32 98.53,564.59 100.75,563.82 102.96,563.02 105.17,562.18 107.39,561.31 109.60,560.39 111.81,559.42 114.03,558.41 116.24,557.35 118.45,556.24 120.67,555.08 122.88,553.86 125.09,552.60 127.31,551.29 129.52,549.94 131.73,548.54 133.95,547.10 136.16,545.63 138.37,544.13 140.59,542.59 142.80,541.03 145.01,539.45 147.23,537.84 149.44,536.21 151.65,534.57 153.87,532.91 156.08,531.23 158.29,529.54 160.51,527.84 162.72,526.13 164.93,524.41 167.15,522.69 169.36,520.95 171.57,519.21 173.79,517.46 176.00,515.70 176.00,557.70 173.79,558.20 171.57,558.72 169.36,559.24 167.15,559.77 164.93,560.30 162.72,560.85 160.51,561.40 158.29,561.96 156.08,562.54 153.87,563.13 151.65,563.73 149.44,564.35 147.23,564.98 145.01,565.64 142.80,566.32 140.59,567.02 138.37,567.75 136.16,568.51 133.95,569.30 131.73,570.13 129.52,570.99 127.31,571.90 125.09,572.86 122.88,573.86 120.67,574.91 118.45,576.01 116.24,577.16 114.03,578.36 111.81,579.61 109.60,580.91 107.39,582.26 105.17,583.64 102.96,585.07 100.75,586.53 98.53,588.03 96.32,589.56 94.11,591.11 91.89,592.69 89.68,594.30 87.47,595.92 85.25,597.56 83.04,599.22 80.83,600.89 78.61,602.58 76.40,604.27 74.19,605.98 71.97,607.70 69.76,609.42 67.55,611.16 65.33,612.90 63.12,614.65 60.91,616.40 58.69,618.16 56.48,619.92 54.27,621.69 52.05,623.46 49.84,625.24 47.63,627.02 45.41,628.80 43.20,630.59" fill="#e3e3e3"/>
</g>
<line x1="43.20" y1="604.60" x2="176.00" y2="536.70" stroke="#231815" stroke-width="1.5"/>
<circle cx="110.80" cy="584.90" r="2.2" fill="#1f80d8" fill-opacity="0.8"/>
<circle cx="110.40" cy="589.80" r="2.2" fill="#1f80d8" fill-opacity="0.8"/>
<circle cx="95.00" cy="607.10" r="2.2" fill="#1f80d8" fill-opacity="0.8"/>
<circle cx="110.80" cy="614.20" r="2.2" fill="#1f80d8" fill-opacity="0.8"/>
<circle cx="43.00" cy="585.30" r="2.2" fill="#0e8c3c" fill-opacity="0.8"/>
<circle cx="49.60" cy="588.90" r="2.2" fill="#0e8c3c" fill-opacity="0.8"/>
<circle cx="52.00" cy="592.80" r="2.2" fill="#0e8c3c" fill-opacity="0.8"/>
<circle cx="46.00" cy="599.70" r="2.2" fill="#0e8c3c" fill-opacity="0.8"/>
<circle cx="136.20" cy="498.10" r="2.2" fill="#f58a10" fill-opacity="0.8"/>
<circle cx="141.20" cy="541.60" r="2.2" fill="#f58a10" fill-opacity="0.8"/>
<circle cx="144.20" cy="555.30" r="2.2" fill="#f58a10" fill-opacity="0.8"/>
<circle cx="157.00" cy="558.60" r="2.2" fill="#f58a10" fill-opacity="0.8"/>
<circle cx="142.90" cy="516.70" r="2.2" fill="#c8aa82" fill-opacity="0.8"/>
<circle cx="144.20" cy="551.80" r="2.2" fill="#c8aa82" fill-opacity="0.8"/>
<circle cx="136.20" cy="579.90" r="2.2" fill="#c8aa82" fill-opacity="0.8"/>
<circle cx="137.70" cy="584.40" r="2.2" fill="#c8aa82" fill-opacity="0.8"/>
<circle cx="148.90" cy="527.30" r="2.2" fill="#e0006a" fill-opacity="0.8"/>
<circle cx="175.90" cy="528.80" r="2.2" fill="#e0006a" fill-opacity="0.8"/>
<circle cx="152.80" cy="540.20" r="2.2" fill="#e0006a" fill-opacity="0.8"/>
<circle cx="146.50" cy="575.10" r="2.2" fill="#e0006a" fill-opacity="0.8"/>
<rect x="36.70" y="491.70" width="145.40" height="144.60" fill="none" stroke="#222" stroke-width="1.1"/>
<line x1="33.50" y1="633.00" x2="36.70" y2="633.00" stroke="#111" stroke-width="1"/>
<text x="31.90" y="636.10" font-size="9.2" text-anchor="end">0.00</text>
<line x1="33.50" y1="585.60" x2="36.70" y2="585.60" stroke="#111" stroke-width="1"/>
<text x="31.90" y="588.70" font-size="9.2" text-anchor="end">0.02</text>
<line x1="33.50" y1="536.30" x2="36.70" y2="536.30" stroke="#111" stroke-width="1"/>
<text x="31.90" y="539.40" font-size="9.2" text-anchor="end">0.04</text>
<line x1="68.50" y1="636.30" x2="68.50" y2="639.50" stroke="#111" stroke-width="1"/>
<text x="68.50" y="648.60" font-size="9" text-anchor="middle">2</text>
<line x1="101.70" y1="636.30" x2="101.70" y2="639.50" stroke="#111" stroke-width="1"/>
<text x="101.70" y="648.60" font-size="9" text-anchor="middle">4</text>
<line x1="135.10" y1="636.30" x2="135.10" y2="639.50" stroke="#111" stroke-width="1"/>
<text x="135.10" y="648.60" font-size="9" text-anchor="middle">6</text>
<line x1="168.40" y1="636.30" x2="168.40" y2="639.50" stroke="#111" stroke-width="1"/>
<text x="168.40" y="648.60" font-size="9" text-anchor="middle">8</text>
<text x="44.50" y="502.60" font-size="9.0"><tspan font-style="italic">R</tspan> = 0.64, <tspan font-style="italic">p</tspan> = 0.0022</text>
<text x="117.30" y="661.00" font-size="9.2" text-anchor="middle">Normalized rhizosheath (g m<tspan dy="-3.5" font-size="6.5">−1</tspan><tspan dy="3.5">)</tspan></text>
<text x="14.30" y="565.70" font-size="9.5" text-anchor="middle" transform="rotate(-90 14.30 565.70)">Relative abundance</text>
<circle cx="48.30" cy="469.50" r="3.3" fill="#1f80d8"/>
<text x="48.20" y="484.70" font-size="9.1" text-anchor="middle">B73</text>
<circle cx="78.00" cy="469.50" r="3.3" fill="#0e8c3c"/>
<text x="79.60" y="484.70" font-size="9.1" text-anchor="middle">Ky228</text>
<circle cx="108.00" cy="469.50" r="3.3" fill="#f58a10"/>
<text x="109.20" y="484.70" font-size="9.1" text-anchor="middle">R109B</text>
<circle cx="138.50" cy="469.50" r="3.3" fill="#c8aa82"/>
<text x="139.70" y="484.70" font-size="9.1" text-anchor="middle">B×K</text>
<circle cx="166.10" cy="469.50" r="3.3" fill="#e0006a"/>
<text x="167.50" y="484.70" font-size="9.1" text-anchor="middle">B×R</text>
<clipPath id="cf"><rect x="220.8" y="492" width="168.59999999999997" height="147.20000000000005"/></clipPath>
<g clip-path="url(#cf)">
<polygon points="228.10,498.35 230.66,499.75 233.21,501.16 235.77,502.56 238.33,503.95 240.88,505.34 243.44,506.73 246.00,508.11 248.55,509.48 251.11,510.85 253.67,512.21 256.22,513.56 258.78,514.91 261.34,516.24 263.89,517.57 266.45,518.89 269.01,520.19 271.56,521.49 274.12,522.77 276.68,524.04 279.23,525.29 281.79,526.53 284.35,527.75 286.90,528.95 289.46,530.13 292.02,531.29 294.57,532.43 297.13,533.55 299.69,534.64 302.24,535.71 304.80,536.75 307.36,537.76 309.91,538.74 312.47,539.69 315.03,540.61 317.58,541.50 320.14,542.36 322.70,543.19 325.25,543.99 327.81,544.76 330.37,545.50 332.92,546.22 335.48,546.90 338.04,547.56 340.59,548.20 343.15,548.81 345.71,549.40 348.26,549.98 350.82,550.53 353.38,551.06 355.93,551.58 358.49,552.08 361.05,552.57 363.60,553.04 366.16,553.51 368.72,553.96 371.27,554.40 373.83,554.83 376.39,555.25 378.94,555.66 381.50,556.07 381.50,595.13 378.94,593.78 376.39,592.43 373.83,591.09 371.27,589.76 368.72,588.44 366.16,587.13 363.60,585.84 361.05,584.55 358.49,583.28 355.93,582.02 353.38,580.78 350.82,579.55 348.26,578.34 345.71,577.16 343.15,575.99 340.59,574.84 338.04,573.72 335.48,572.62 332.92,571.54 330.37,570.50 327.81,569.48 325.25,568.49 322.70,567.53 320.14,566.60 317.58,565.70 315.03,564.83 312.47,563.99 309.91,563.18 307.36,562.40 304.80,561.65 302.24,560.93 299.69,560.24 297.13,559.57 294.57,558.93 292.02,558.31 289.46,557.71 286.90,557.13 284.35,556.57 281.79,556.03 279.23,555.51 276.68,555.00 274.12,554.51 271.56,554.03 269.01,553.57 266.45,553.11 263.89,552.67 261.34,552.24 258.78,551.81 256.22,551.40 253.67,550.99 251.11,550.59 248.55,550.20 246.00,549.81 243.44,549.43 240.88,549.06 238.33,548.69 235.77,548.32 233.21,547.96 230.66,547.61 228.10,547.25" fill="#e3e3e3"/>
</g>
<line x1="228.10" y1="522.80" x2="381.50" y2="575.60" stroke="#231815" stroke-width="1.5"/>
<circle cx="305.60" cy="506.70" r="1.8" fill="#1f80d8" fill-opacity="0.8"/>
<circle cx="305.90" cy="533.60" r="1.8" fill="#1f80d8" fill-opacity="0.8"/>
<circle cx="305.90" cy="545.40" r="1.8" fill="#1f80d8" fill-opacity="0.8"/>
<circle cx="288.00" cy="549.20" r="1.8" fill="#1f80d8" fill-opacity="0.8"/>
<circle cx="227.80" cy="532.80" r="1.8" fill="#0e8c3c" fill-opacity="0.8"/>
<circle cx="235.50" cy="518.70" r="1.8" fill="#0e8c3c" fill-opacity="0.8"/>
<circle cx="238.10" cy="541.30" r="1.8" fill="#0e8c3c" fill-opacity="0.8"/>
<circle cx="231.40" cy="545.70" r="1.8" fill="#0e8c3c" fill-opacity="0.8"/>
<circle cx="335.80" cy="560.90" r="1.8" fill="#f58a10" fill-opacity="0.8"/>
<circle cx="344.60" cy="560.00" r="1.8" fill="#f58a10" fill-opacity="0.8"/>
<circle cx="359.80" cy="559.40" r="1.8" fill="#f58a10" fill-opacity="0.8"/>
<circle cx="341.30" cy="572.00" r="1.8" fill="#f58a10" fill-opacity="0.8"/>
<circle cx="335.50" cy="530.10" r="1.8" fill="#c8aa82" fill-opacity="0.8"/>
<circle cx="343.40" cy="548.00" r="1.8" fill="#c8aa82" fill-opacity="0.8"/>
<circle cx="337.50" cy="554.20" r="1.8" fill="#c8aa82" fill-opacity="0.8"/>
<circle cx="345.10" cy="603.40" r="1.8" fill="#c8aa82" fill-opacity="0.8"/>
<circle cx="347.20" cy="527.50" r="1.8" fill="#e0006a" fill-opacity="0.8"/>
<circle cx="350.70" cy="569.10" r="1.8" fill="#e0006a" fill-opacity="0.8"/>
<circle cx="354.80" cy="577.00" r="1.8" fill="#e0006a" fill-opacity="0.8"/>
<circle cx="381.20" cy="632.20" r="1.8" fill="#e0006a" fill-opacity="0.8"/>
<rect x="220.80" y="492.00" width="168.60" height="147.20" fill="none" stroke="#222" stroke-width="1.1"/>
<line x1="217.60" y1="602.00" x2="220.80" y2="602.00" stroke="#111" stroke-width="1"/>
<text x="216.00" y="605.10" font-size="9.2" text-anchor="end">0.0</text>
<line x1="217.60" y1="548.60" x2="220.80" y2="548.60" stroke="#111" stroke-width="1"/>
<text x="216.00" y="551.70" font-size="9.2" text-anchor="end">0.5</text>
<line x1="217.60" y1="495.80" x2="220.80" y2="495.80" stroke="#111" stroke-width="1"/>
<text x="216.00" y="498.90" font-size="9.2" text-anchor="end">1.0</text>
<line x1="258.00" y1="639.20" x2="258.00" y2="642.40" stroke="#111" stroke-width="1"/>
<text x="258.00" y="651.50" font-size="9" text-anchor="middle">2</text>
<line x1="297.00" y1="639.20" x2="297.00" y2="642.40" stroke="#111" stroke-width="1"/>
<text x="297.00" y="651.50" font-size="9" text-anchor="middle">4</text>
<line x1="336.30" y1="639.20" x2="336.30" y2="642.40" stroke="#111" stroke-width="1"/>
<text x="336.30" y="651.50" font-size="9" text-anchor="middle">6</text>
<line x1="375.90" y1="639.20" x2="375.90" y2="642.40" stroke="#111" stroke-width="1"/>
<text x="375.90" y="651.50" font-size="9" text-anchor="middle">8</text>
<text x="264.80" y="502.30" font-size="9.0"><tspan font-style="italic">R</tspan> = -0.57, <tspan font-style="italic">p</tspan> = 0.0085</text>
<text x="305.00" y="661.00" font-size="9.2" text-anchor="middle">Normalized rhizosheath (g m<tspan dy="-3.5" font-size="6.5">−1</tspan><tspan dy="3.5">)</tspan></text>
<text x="198.50" y="556.50" font-size="9.0" text-anchor="middle" transform="rotate(-90 198.50 556.50)">N<tspan dy="2" font-size="6.5">2</tspan><tspan dy="-2">O flux (µg N</tspan><tspan dy="2" font-size="6.5">2</tspan><tspan dy="-2">O-N kg</tspan><tspan dy="-3.5" font-size="6.5">-1</tspan><tspan dy="3.5">h</tspan><tspan dy="-3.5" font-size="6.5">-1</tspan><tspan dy="3.5">)</tspan></text>
<clipPath id="cg"><rect x="430.9" y="491.9" width="161.30000000000007" height="145.10000000000002"/></clipPath>
<g clip-path="url(#cg)">
<polygon points="437.40,499.59 439.85,501.24 442.30,502.89 444.75,504.52 447.19,506.14 449.64,507.76 452.09,509.36 454.54,510.95 456.99,512.52 459.44,514.08 461.88,515.63 464.33,517.15 466.78,518.66 469.23,520.14 471.68,521.60 474.12,523.04 476.57,524.44 479.02,525.82 481.47,527.16 483.92,528.47 486.37,529.75 488.81,530.98 491.26,532.18 493.71,533.33 496.16,534.44 498.61,535.50 501.06,536.53 503.50,537.51 505.95,538.44 508.40,539.34 510.85,540.19 513.30,541.01 515.75,541.79 518.19,542.54 520.64,543.26 523.09,543.95 525.54,544.61 527.99,545.25 530.44,545.86 532.88,546.46 535.33,547.03 537.78,547.59 540.23,548.13 542.68,548.66 545.13,549.18 547.57,549.68 550.02,550.17 552.47,550.65 554.92,551.13 557.37,551.59 559.82,552.05 562.26,552.50 564.71,552.94 567.16,553.37 569.61,553.80 572.06,554.23 574.51,554.65 576.95,555.07 579.40,555.48 581.85,555.89 584.30,556.29 584.30,612.31 581.85,610.60 579.40,608.90 576.95,607.20 574.51,605.51 572.06,603.82 569.61,602.14 567.16,600.46 564.71,598.78 562.26,597.11 559.82,595.45 557.37,593.80 554.92,592.15 552.47,590.52 550.02,588.89 547.57,587.27 545.13,585.66 542.68,584.07 540.23,582.49 537.78,580.92 535.33,579.37 532.88,577.83 530.44,576.32 527.99,574.82 525.54,573.35 523.09,571.90 520.64,570.48 518.19,569.09 515.75,567.73 513.30,566.40 510.85,565.11 508.40,563.85 505.95,562.64 503.50,561.46 501.06,560.33 498.61,559.25 496.16,558.20 493.71,557.20 491.26,556.24 488.81,555.33 486.37,554.45 483.92,553.62 481.47,552.82 479.02,552.05 476.57,551.32 474.12,550.61 471.68,549.94 469.23,549.29 466.78,548.66 464.33,548.06 461.88,547.47 459.44,546.91 456.99,546.36 454.54,545.82 452.09,545.30 449.64,544.79 447.19,544.30 444.75,543.81 442.30,543.33 439.85,542.87 437.40,542.41" fill="#e3e3e3"/>
</g>
<line x1="437.40" y1="521.00" x2="584.30" y2="584.30" stroke="#231815" stroke-width="1.5"/>
<circle cx="468.60" cy="498.30" r="1.8" fill="#1f80d8" fill-opacity="0.8"/>
<circle cx="437.40" cy="526.60" r="1.8" fill="#1f80d8" fill-opacity="0.8"/>
<circle cx="446.40" cy="543.30" r="1.8" fill="#1f80d8" fill-opacity="0.8"/>
<circle cx="475.00" cy="539.10" r="1.8" fill="#1f80d8" fill-opacity="0.8"/>
<circle cx="469.60" cy="511.10" r="1.8" fill="#0e8c3c" fill-opacity="0.8"/>
<circle cx="473.70" cy="525.90" r="1.8" fill="#0e8c3c" fill-opacity="0.8"/>
<circle cx="464.40" cy="534.90" r="1.8" fill="#0e8c3c" fill-opacity="0.8"/>
<circle cx="455.70" cy="539.10" r="1.8" fill="#0e8c3c" fill-opacity="0.8"/>
<circle cx="585.00" cy="555.20" r="1.8" fill="#f58a10" fill-opacity="0.8"/>
<circle cx="507.40" cy="553.90" r="1.8" fill="#f58a10" fill-opacity="0.8"/>
<circle cx="512.80" cy="555.20" r="1.8" fill="#f58a10" fill-opacity="0.8"/>
<circle cx="529.50" cy="566.80" r="1.8" fill="#f58a10" fill-opacity="0.8"/>
<circle cx="480.70" cy="523.00" r="1.8" fill="#c8aa82" fill-opacity="0.8"/>
<circle cx="475.30" cy="548.10" r="1.8" fill="#c8aa82" fill-opacity="0.8"/>
<circle cx="560.70" cy="542.00" r="1.8" fill="#c8aa82" fill-opacity="0.8"/>
<circle cx="516.70" cy="599.80" r="1.8" fill="#c8aa82" fill-opacity="0.8"/>
<circle cx="486.50" cy="520.50" r="1.8" fill="#e0006a" fill-opacity="0.8"/>
<circle cx="548.00" cy="564.20" r="1.8" fill="#e0006a" fill-opacity="0.8"/>
<circle cx="531.30" cy="572.90" r="1.8" fill="#e0006a" fill-opacity="0.8"/>
<circle cx="545.30" cy="630.10" r="1.8" fill="#e0006a" fill-opacity="0.8"/>
<rect x="430.90" y="491.90" width="161.30" height="145.10" fill="none" stroke="#222" stroke-width="1.1"/>
<line x1="427.70" y1="631.70" x2="430.90" y2="631.70" stroke="#111" stroke-width="1"/>
<text x="426.10" y="634.80" font-size="9.2" text-anchor="end">−0.3</text>
<line x1="427.70" y1="598.60" x2="430.90" y2="598.60" stroke="#111" stroke-width="1"/>
<text x="426.10" y="601.70" font-size="9.2" text-anchor="end">0.0</text>
<line x1="427.70" y1="564.80" x2="430.90" y2="564.80" stroke="#111" stroke-width="1"/>
<text x="426.10" y="567.90" font-size="9.2" text-anchor="end">0.3</text>
<line x1="427.70" y1="531.70" x2="430.90" y2="531.70" stroke="#111" stroke-width="1"/>
<text x="426.10" y="534.80" font-size="9.2" text-anchor="end">0.6</text>
<line x1="427.70" y1="498.00" x2="430.90" y2="498.00" stroke="#111" stroke-width="1"/>
<text x="426.10" y="501.10" font-size="9.2" text-anchor="end">0.9</text>
<line x1="445.10" y1="637.00" x2="445.10" y2="640.20" stroke="#111" stroke-width="1"/>
<text x="445.10" y="649.30" font-size="9" text-anchor="middle">0.01</text>
<line x1="476.00" y1="637.00" x2="476.00" y2="640.20" stroke="#111" stroke-width="1"/>
<text x="476.00" y="649.30" font-size="9" text-anchor="middle">0.02</text>
<line x1="506.20" y1="637.00" x2="506.20" y2="640.20" stroke="#111" stroke-width="1"/>
<text x="506.20" y="649.30" font-size="9" text-anchor="middle">0.03</text>
<line x1="536.10" y1="637.00" x2="536.10" y2="640.20" stroke="#111" stroke-width="1"/>
<text x="536.10" y="649.30" font-size="9" text-anchor="middle">0.04</text>
<line x1="566.60" y1="637.00" x2="566.60" y2="640.20" stroke="#111" stroke-width="1"/>
<text x="566.60" y="649.30" font-size="9" text-anchor="middle">0.05</text>
<text x="512.80" y="502.10" font-size="9.0"><tspan font-style="italic">R</tspan> = -0.59, <tspan font-style="italic">p</tspan> = 0.0065</text>
<text x="516.20" y="661.00" font-size="9.2" text-anchor="middle">Relative abundance</text>
<text x="405.50" y="564.50" font-size="9.0" text-anchor="middle" transform="rotate(-90 405.50 564.50)">N<tspan dy="2" font-size="6.5">2</tspan><tspan dy="-2">O flux (µg N</tspan><tspan dy="2" font-size="6.5">2</tspan><tspan dy="-2">O-N kg</tspan><tspan dy="-3.5" font-size="6.5">-1</tspan><tspan dy="3.5">h</tspan><tspan dy="-3.5" font-size="6.5">-1</tspan><tspan dy="3.5">)</tspan></text>
</svg></body></html>
